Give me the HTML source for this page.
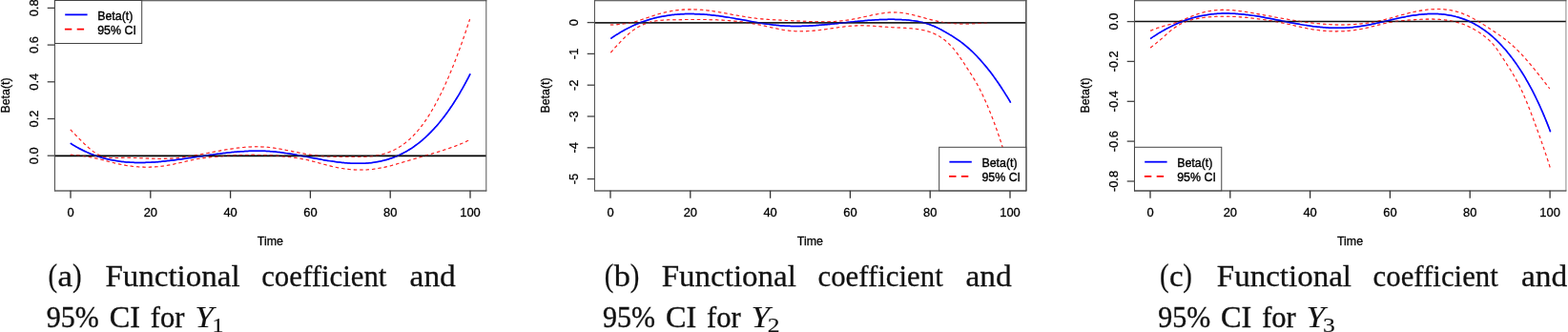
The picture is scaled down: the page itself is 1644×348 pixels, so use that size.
<!DOCTYPE html>
<html><head><meta charset="utf-8"><title>Functional coefficient and 95% CI</title>
<style>
html,body{margin:0;padding:0;background:#fff;}
body{width:1644px;height:348px;overflow:hidden;position:relative;}
</style></head><body>
<svg width="1644" height="348" viewBox="0 0 1644 348" style="position:absolute;left:0;top:0">
<rect width="1644" height="348" fill="#fff"/>
<g>
<g fill="none" stroke-linejoin="round">
<path d="M73.80,135.89 L75.30,137.39 L76.80,138.92 L78.30,140.46 L79.80,142.01 L81.30,143.56 L82.80,145.11 L84.30,146.64 L85.80,148.16 L87.30,149.65 L88.80,151.11 L90.30,152.53 L91.80,153.90 L93.30,155.23 L94.80,156.49 L96.30,157.69 L97.80,158.81 L99.30,159.86 L100.80,160.82 L102.30,161.68 L103.80,162.45 L105.30,163.11 L106.80,163.68 L108.30,164.15 L109.80,164.54 L111.30,164.85 L112.80,165.09 L114.30,165.27 L115.80,165.40 L117.30,165.48 L118.80,165.52 L120.30,165.53 L121.80,165.51 L123.30,165.48 L124.80,165.44 L126.30,165.40 L127.80,165.36 L129.30,165.33 L130.80,165.32 L132.30,165.32 L133.80,165.33 L135.30,165.35 L136.80,165.38 L138.30,165.41 L139.80,165.45 L141.30,165.50 L142.80,165.56 L144.30,165.61 L145.80,165.68 L147.30,165.74 L148.80,165.81 L150.30,165.87 L151.80,165.94 L153.30,166.01 L154.80,166.07 L156.30,166.13 L157.80,166.19 L159.30,166.24 L160.80,166.29 L162.30,166.33 L163.80,166.36 L165.30,166.39 L166.80,166.40 L168.30,166.41 L169.80,166.41 L171.30,166.39 L172.80,166.36 L174.30,166.32 L175.80,166.26 L177.30,166.19 L178.80,166.11 L180.30,166.01 L181.80,165.89 L183.30,165.77 L184.80,165.63 L186.30,165.48 L187.80,165.31 L189.30,165.14 L190.80,164.95 L192.30,164.76 L193.80,164.55 L195.30,164.34 L196.80,164.12 L198.30,163.89 L199.80,163.65 L201.30,163.41 L202.80,163.16 L204.30,162.90 L205.80,162.64 L207.30,162.38 L208.80,162.11 L210.30,161.83 L211.80,161.55 L213.30,161.27 L214.80,160.99 L216.30,160.71 L217.80,160.42 L219.30,160.14 L220.80,159.85 L222.30,159.57 L223.80,159.28 L225.30,159.00 L226.80,158.72 L228.30,158.44 L229.80,158.16 L231.30,157.89 L232.80,157.62 L234.30,157.36 L235.80,157.10 L237.30,156.85 L238.80,156.61 L240.30,156.37 L241.80,156.13 L243.30,155.91 L244.80,155.69 L246.30,155.49 L247.80,155.29 L249.30,155.10 L250.80,154.92 L252.30,154.76 L253.80,154.60 L255.30,154.46 L256.80,154.33 L258.30,154.21 L259.80,154.10 L261.30,154.01 L262.80,153.94 L264.30,153.87 L265.80,153.83 L267.30,153.80 L268.80,153.79 L270.30,153.79 L271.80,153.81 L273.30,153.85 L274.80,153.91 L276.30,153.99 L277.80,154.09 L279.30,154.21 L280.80,154.34 L282.30,154.50 L283.80,154.67 L285.30,154.86 L286.80,155.07 L288.30,155.28 L289.80,155.51 L291.30,155.76 L292.80,156.01 L294.30,156.28 L295.80,156.55 L297.30,156.83 L298.80,157.12 L300.30,157.41 L301.80,157.71 L303.30,158.01 L304.80,158.31 L306.30,158.62 L307.80,158.93 L309.30,159.23 L310.80,159.54 L312.30,159.84 L313.80,160.14 L315.30,160.43 L316.80,160.72 L318.30,161.00 L319.80,161.28 L321.30,161.54 L322.80,161.80 L324.30,162.04 L325.80,162.28 L327.30,162.50 L328.80,162.70 L330.30,162.89 L331.80,163.07 L333.30,163.23 L334.80,163.37 L336.30,163.50 L337.80,163.61 L339.30,163.71 L340.80,163.80 L342.30,163.87 L343.80,163.93 L345.30,163.99 L346.80,164.03 L348.30,164.07 L349.80,164.10 L351.30,164.12 L352.80,164.14 L354.30,164.15 L355.80,164.16 L357.30,164.17 L358.80,164.18 L360.30,164.18 L361.80,164.19 L363.30,164.19 L364.80,164.20 L366.30,164.21 L367.80,164.23 L369.30,164.24 L370.80,164.26 L372.30,164.27 L373.80,164.28 L375.30,164.28 L376.80,164.28 L378.30,164.27 L379.80,164.24 L381.30,164.21 L382.80,164.15 L384.30,164.09 L385.80,164.00 L387.30,163.90 L388.80,163.77 L390.30,163.62 L391.80,163.44 L393.30,163.24 L394.80,163.01 L396.30,162.74 L397.80,162.45 L399.30,162.12 L400.80,161.75 L402.30,161.35 L403.80,160.91 L405.30,160.43 L406.80,159.91 L408.30,159.35 L409.80,158.74 L411.30,158.08 L412.80,157.38 L414.30,156.63 L415.80,155.83 L417.30,154.97 L418.80,154.07 L420.30,153.11 L421.80,152.09 L423.30,151.01 L424.80,149.88 L426.30,148.68 L427.80,147.42 L429.30,146.10 L430.80,144.71 L432.30,143.25 L433.80,141.73 L435.30,140.14 L436.80,138.47 L438.30,136.73 L439.80,134.92 L441.30,133.03 L442.80,131.07 L444.30,129.02 L445.80,126.90 L447.30,124.69 L448.80,122.40 L450.30,120.03 L451.80,117.58 L453.30,115.05 L454.80,112.43 L456.30,109.73 L457.80,106.96 L459.30,104.10 L460.80,101.16 L462.30,98.14 L463.80,95.04 L465.30,91.86 L466.80,88.60 L468.30,85.26 L469.80,81.84 L471.30,78.34 L472.80,74.75 L474.30,71.09 L475.80,67.35 L477.30,63.53 L478.80,59.63 L480.30,55.66 L481.80,51.60 L483.30,47.46 L484.80,43.25 L486.30,38.95 L487.80,34.58 L489.30,30.13 L490.80,25.60 L492.30,20.99 L492.60,20.06" stroke="#ff2222" stroke-width="1.05" stroke-dasharray="3.4 3"/>
<path d="M73.80,162.32 L75.30,162.35 L76.80,162.41 L78.30,162.49 L79.80,162.59 L81.30,162.72 L82.80,162.86 L84.30,163.03 L85.80,163.22 L87.30,163.43 L88.80,163.65 L90.30,163.90 L91.80,164.15 L93.30,164.43 L94.80,164.72 L96.30,165.02 L97.80,165.34 L99.30,165.67 L100.80,166.01 L102.30,166.36 L103.80,166.72 L105.30,167.09 L106.80,167.46 L108.30,167.84 L109.80,168.23 L111.30,168.62 L112.80,169.01 L114.30,169.39 L115.80,169.78 L117.30,170.16 L118.80,170.54 L120.30,170.90 L121.80,171.26 L123.30,171.61 L124.80,171.95 L126.30,172.27 L127.80,172.58 L129.30,172.87 L130.80,173.14 L132.30,173.40 L133.80,173.64 L135.30,173.86 L136.80,174.06 L138.30,174.25 L139.80,174.42 L141.30,174.57 L142.80,174.71 L144.30,174.82 L145.80,174.92 L147.30,175.01 L148.80,175.07 L150.30,175.12 L151.80,175.15 L153.30,175.17 L154.80,175.17 L156.30,175.15 L157.80,175.11 L159.30,175.05 L160.80,174.98 L162.30,174.89 L163.80,174.78 L165.30,174.66 L166.80,174.52 L168.30,174.36 L169.80,174.18 L171.30,173.99 L172.80,173.78 L174.30,173.55 L175.80,173.30 L177.30,173.04 L178.80,172.76 L180.30,172.46 L181.80,172.16 L183.30,171.84 L184.80,171.51 L186.30,171.18 L187.80,170.84 L189.30,170.49 L190.80,170.15 L192.30,169.80 L193.80,169.45 L195.30,169.10 L196.80,168.76 L198.30,168.42 L199.80,168.09 L201.30,167.77 L202.80,167.45 L204.30,167.15 L205.80,166.87 L207.30,166.59 L208.80,166.33 L210.30,166.09 L211.80,165.86 L213.30,165.64 L214.80,165.43 L216.30,165.24 L217.80,165.05 L219.30,164.88 L220.80,164.71 L222.30,164.56 L223.80,164.41 L225.30,164.27 L226.80,164.13 L228.30,164.00 L229.80,163.88 L231.30,163.76 L232.80,163.65 L234.30,163.54 L235.80,163.44 L237.30,163.34 L238.80,163.24 L240.30,163.15 L241.80,163.07 L243.30,162.99 L244.80,162.91 L246.30,162.84 L247.80,162.77 L249.30,162.71 L250.80,162.65 L252.30,162.60 L253.80,162.56 L255.30,162.52 L256.80,162.48 L258.30,162.45 L259.80,162.43 L261.30,162.41 L262.80,162.40 L264.30,162.39 L265.80,162.39 L267.30,162.39 L268.80,162.41 L270.30,162.42 L271.80,162.45 L273.30,162.48 L274.80,162.51 L276.30,162.56 L277.80,162.61 L279.30,162.66 L280.80,162.73 L282.30,162.80 L283.80,162.88 L285.30,162.96 L286.80,163.05 L288.30,163.15 L289.80,163.26 L291.30,163.37 L292.80,163.49 L294.30,163.62 L295.80,163.75 L297.30,163.90 L298.80,164.05 L300.30,164.21 L301.80,164.38 L303.30,164.55 L304.80,164.74 L306.30,164.94 L307.80,165.14 L309.30,165.36 L310.80,165.59 L312.30,165.83 L313.80,166.08 L315.30,166.34 L316.80,166.61 L318.30,166.90 L319.80,167.20 L321.30,167.51 L322.80,167.84 L324.30,168.18 L325.80,168.53 L327.30,168.90 L328.80,169.28 L330.30,169.67 L331.80,170.08 L333.30,170.48 L334.80,170.90 L336.30,171.31 L337.80,171.73 L339.30,172.14 L340.80,172.55 L342.30,172.96 L343.80,173.36 L345.30,173.75 L346.80,174.13 L348.30,174.49 L349.80,174.84 L351.30,175.18 L352.80,175.49 L354.30,175.79 L355.80,176.07 L357.30,176.33 L358.80,176.58 L360.30,176.81 L361.80,177.01 L363.30,177.21 L364.80,177.38 L366.30,177.53 L367.80,177.67 L369.30,177.79 L370.80,177.88 L372.30,177.96 L373.80,178.03 L375.30,178.07 L376.80,178.09 L378.30,178.09 L379.80,178.08 L381.30,178.04 L382.80,177.99 L384.30,177.92 L385.80,177.82 L387.30,177.71 L388.80,177.57 L390.30,177.42 L391.80,177.25 L393.30,177.05 L394.80,176.84 L396.30,176.60 L397.80,176.35 L399.30,176.07 L400.80,175.78 L402.30,175.46 L403.80,175.13 L405.30,174.79 L406.80,174.42 L408.30,174.05 L409.80,173.66 L411.30,173.27 L412.80,172.86 L414.30,172.45 L415.80,172.02 L417.30,171.60 L418.80,171.16 L420.30,170.73 L421.80,170.29 L423.30,169.85 L424.80,169.41 L426.30,168.97 L427.80,168.53 L429.30,168.09 L430.80,167.65 L432.30,167.21 L433.80,166.76 L435.30,166.32 L436.80,165.88 L438.30,165.44 L439.80,165.00 L441.30,164.55 L442.80,164.11 L444.30,163.67 L445.80,163.23 L447.30,162.79 L448.80,162.35 L450.30,161.91 L451.80,161.47 L453.30,161.03 L454.80,160.58 L456.30,160.13 L457.80,159.68 L459.30,159.22 L460.80,158.76 L462.30,158.29 L463.80,157.82 L465.30,157.33 L466.80,156.84 L468.30,156.35 L469.80,155.84 L471.30,155.32 L472.80,154.79 L474.30,154.25 L475.80,153.70 L477.30,153.14 L478.80,152.56 L480.30,151.97 L481.80,151.36 L483.30,150.74 L484.80,150.11 L486.30,149.45 L487.80,148.78 L489.30,148.10 L490.80,147.39 L492.30,146.67 L493.00,146.32" stroke="#ff2222" stroke-width="1.05" stroke-dasharray="3.4 3"/>
<path d="M73.80,150.17 L75.30,151.13 L76.80,152.05 L78.30,152.95 L79.80,153.82 L81.30,154.66 L82.80,155.48 L84.30,156.27 L85.80,157.04 L87.30,157.78 L88.80,158.50 L90.30,159.19 L91.80,159.85 L93.30,160.50 L94.80,161.12 L96.30,161.71 L97.80,162.28 L99.30,162.84 L100.80,163.36 L102.30,163.87 L103.80,164.35 L105.30,164.82 L106.80,165.26 L108.30,165.68 L109.80,166.08 L111.30,166.46 L112.80,166.82 L114.30,167.17 L115.80,167.49 L117.30,167.79 L118.80,168.08 L120.30,168.35 L121.80,168.60 L123.30,168.83 L124.80,169.05 L126.30,169.25 L127.80,169.43 L129.30,169.60 L130.80,169.75 L132.30,169.88 L133.80,170.00 L135.30,170.11 L136.80,170.20 L138.30,170.28 L139.80,170.34 L141.30,170.39 L142.80,170.43 L144.30,170.45 L145.80,170.47 L147.30,170.47 L148.80,170.45 L150.30,170.43 L151.80,170.40 L153.30,170.35 L154.80,170.30 L156.30,170.23 L157.80,170.16 L159.30,170.07 L160.80,169.98 L162.30,169.88 L163.80,169.77 L165.30,169.65 L166.80,169.52 L168.30,169.39 L169.80,169.24 L171.30,169.10 L172.80,168.94 L174.30,168.78 L175.80,168.61 L177.30,168.44 L178.80,168.27 L180.30,168.08 L181.80,167.90 L183.30,167.71 L184.80,167.51 L186.30,167.32 L187.80,167.11 L189.30,166.91 L190.80,166.70 L192.30,166.49 L193.80,166.28 L195.30,166.07 L196.80,165.85 L198.30,165.63 L199.80,165.41 L201.30,165.19 L202.80,164.97 L204.30,164.75 L205.80,164.53 L207.30,164.31 L208.80,164.08 L210.30,163.86 L211.80,163.64 L213.30,163.42 L214.80,163.20 L216.30,162.98 L217.80,162.77 L219.30,162.55 L220.80,162.34 L222.30,162.13 L223.80,161.93 L225.30,161.72 L226.80,161.52 L228.30,161.32 L229.80,161.13 L231.30,160.94 L232.80,160.75 L234.30,160.57 L235.80,160.40 L237.30,160.22 L238.80,160.06 L240.30,159.90 L241.80,159.74 L243.30,159.59 L244.80,159.45 L246.30,159.31 L247.80,159.18 L249.30,159.06 L250.80,158.94 L252.30,158.83 L253.80,158.73 L255.30,158.64 L256.80,158.55 L258.30,158.48 L259.80,158.41 L261.30,158.35 L262.80,158.30 L264.30,158.26 L265.80,158.23 L267.30,158.21 L268.80,158.20 L270.30,158.20 L271.80,158.21 L273.30,158.23 L274.80,158.27 L276.30,158.31 L277.80,158.37 L279.30,158.43 L280.80,158.51 L282.30,158.61 L283.80,158.71 L285.30,158.83 L286.80,158.96 L288.30,159.10 L289.80,159.26 L291.30,159.42 L292.80,159.60 L294.30,159.79 L295.80,159.98 L297.30,160.19 L298.80,160.40 L300.30,160.62 L301.80,160.85 L303.30,161.08 L304.80,161.33 L306.30,161.58 L307.80,161.83 L309.30,162.09 L310.80,162.35 L312.30,162.62 L313.80,162.90 L315.30,163.17 L316.80,163.45 L318.30,163.73 L319.80,164.01 L321.30,164.30 L322.80,164.58 L324.30,164.87 L325.80,165.15 L327.30,165.44 L328.80,165.72 L330.30,166.00 L331.80,166.28 L333.30,166.56 L334.80,166.84 L336.30,167.11 L337.80,167.37 L339.30,167.64 L340.80,167.89 L342.30,168.15 L343.80,168.39 L345.30,168.63 L346.80,168.87 L348.30,169.09 L349.80,169.31 L351.30,169.52 L352.80,169.72 L354.30,169.91 L355.80,170.09 L357.30,170.26 L358.80,170.43 L360.30,170.57 L361.80,170.71 L363.30,170.84 L364.80,170.95 L366.30,171.05 L367.80,171.14 L369.30,171.21 L370.80,171.27 L372.30,171.31 L373.80,171.34 L375.30,171.35 L376.80,171.34 L378.30,171.32 L379.80,171.28 L381.30,171.22 L382.80,171.14 L384.30,171.05 L385.80,170.93 L387.30,170.79 L388.80,170.64 L390.30,170.46 L391.80,170.26 L393.30,170.04 L394.80,169.80 L396.30,169.54 L397.80,169.25 L399.30,168.94 L400.80,168.60 L402.30,168.24 L403.80,167.85 L405.30,167.43 L406.80,166.99 L408.30,166.52 L409.80,166.02 L411.30,165.50 L412.80,164.94 L414.30,164.36 L415.80,163.74 L417.30,163.09 L418.80,162.42 L420.30,161.71 L421.80,160.96 L423.30,160.19 L424.80,159.38 L426.30,158.53 L427.80,157.66 L429.30,156.74 L430.80,155.79 L432.30,154.81 L433.80,153.78 L435.30,152.72 L436.80,151.62 L438.30,150.48 L439.80,149.31 L441.30,148.09 L442.80,146.83 L444.30,145.53 L445.80,144.19 L447.30,142.81 L448.80,141.38 L450.30,139.91 L451.80,138.40 L453.30,136.84 L454.80,135.24 L456.30,133.59 L457.80,131.90 L459.30,130.16 L460.80,128.37 L462.30,126.53 L463.80,124.65 L465.30,122.71 L466.80,120.73 L468.30,118.70 L469.80,116.61 L471.30,114.48 L472.80,112.29 L474.30,110.05 L475.80,107.76 L477.30,105.42 L478.80,103.02 L480.30,100.56 L481.80,98.05 L483.30,95.49 L484.80,92.87 L486.30,90.19 L487.80,87.45 L489.30,84.66 L490.80,81.81 L492.30,78.89 L493.10,77.32" stroke="#0404ff" stroke-width="1.5" stroke-linecap="butt"/>
<line x1="57.5" x2="509.8" y1="163.30" y2="163.30" stroke="#000" stroke-width="1.7"/>
<path d="M73.80,135.89 L75.30,137.39 L76.80,138.92 L78.30,140.46 L79.80,142.01 L81.30,143.56 L82.80,145.11 L84.30,146.64 L85.80,148.16 L87.30,149.65 L88.80,151.11 L90.30,152.53 L91.80,153.90 L93.30,155.23 L94.80,156.49 L96.30,157.69 L97.80,158.81 L99.30,159.86 L100.80,160.82 L102.30,161.68 L103.80,162.45 L105.30,163.11 L106.80,163.68 L108.30,164.15 L109.80,164.54 L111.30,164.85 L112.80,165.09 L114.30,165.27 L115.80,165.40 L117.30,165.48 L118.80,165.52 L120.30,165.53 L121.80,165.51 L123.30,165.48 L124.80,165.44 L126.30,165.40 L127.80,165.36 L129.30,165.33 L130.80,165.32 L132.30,165.32 L133.80,165.33 L135.30,165.35 L136.80,165.38 L138.30,165.41 L139.80,165.45 L141.30,165.50 L142.80,165.56 L144.30,165.61 L145.80,165.68 L147.30,165.74 L148.80,165.81 L150.30,165.87 L151.80,165.94 L153.30,166.01 L154.80,166.07 L156.30,166.13 L157.80,166.19 L159.30,166.24 L160.80,166.29 L162.30,166.33 L163.80,166.36 L165.30,166.39 L166.80,166.40 L168.30,166.41 L169.80,166.41 L171.30,166.39 L172.80,166.36 L174.30,166.32 L175.80,166.26 L177.30,166.19 L178.80,166.11 L180.30,166.01 L181.80,165.89 L183.30,165.77 L184.80,165.63 L186.30,165.48 L187.80,165.31 L189.30,165.14 L190.80,164.95 L192.30,164.76 L193.80,164.55 L195.30,164.34 L196.80,164.12 L198.30,163.89 L199.80,163.65 L201.30,163.41 L202.80,163.16 L204.30,162.90 L205.80,162.64 L207.30,162.38 L208.80,162.11 L210.30,161.83 L211.80,161.55 L213.30,161.27 L214.80,160.99 L216.30,160.71 L217.80,160.42 L219.30,160.14 L220.80,159.85 L222.30,159.57 L223.80,159.28 L225.30,159.00 L226.80,158.72 L228.30,158.44 L229.80,158.16 L231.30,157.89 L232.80,157.62 L234.30,157.36 L235.80,157.10 L237.30,156.85 L238.80,156.61 L240.30,156.37 L241.80,156.13 L243.30,155.91 L244.80,155.69 L246.30,155.49 L247.80,155.29 L249.30,155.10 L250.80,154.92 L252.30,154.76 L253.80,154.60 L255.30,154.46 L256.80,154.33 L258.30,154.21 L259.80,154.10 L261.30,154.01 L262.80,153.94 L264.30,153.87 L265.80,153.83 L267.30,153.80 L268.80,153.79 L270.30,153.79 L271.80,153.81 L273.30,153.85 L274.80,153.91 L276.30,153.99 L277.80,154.09 L279.30,154.21 L280.80,154.34 L282.30,154.50 L283.80,154.67 L285.30,154.86 L286.80,155.07 L288.30,155.28 L289.80,155.51 L291.30,155.76 L292.80,156.01 L294.30,156.28 L295.80,156.55 L297.30,156.83 L298.80,157.12 L300.30,157.41 L301.80,157.71 L303.30,158.01 L304.80,158.31 L306.30,158.62 L307.80,158.93 L309.30,159.23 L310.80,159.54 L312.30,159.84 L313.80,160.14 L315.30,160.43 L316.80,160.72 L318.30,161.00 L319.80,161.28 L321.30,161.54 L322.80,161.80 L324.30,162.04 L325.80,162.28 L327.30,162.50 L328.80,162.70 L330.30,162.89 L331.80,163.07 L333.30,163.23 L334.80,163.37 L336.30,163.50 L337.80,163.61 L339.30,163.71 L340.80,163.80 L342.30,163.87 L343.80,163.93 L345.30,163.99 L346.80,164.03 L348.30,164.07 L349.80,164.10 L351.30,164.12 L352.80,164.14 L354.30,164.15 L355.80,164.16 L357.30,164.17 L358.80,164.18 L360.30,164.18 L361.80,164.19 L363.30,164.19 L364.80,164.20 L366.30,164.21 L367.80,164.23 L369.30,164.24 L370.80,164.26 L372.30,164.27 L373.80,164.28 L375.30,164.28 L376.80,164.28 L378.30,164.27 L379.80,164.24 L381.30,164.21 L382.80,164.15 L384.30,164.09 L385.80,164.00 L387.30,163.90 L388.80,163.77 L390.30,163.62 L391.80,163.44 L393.30,163.24 L394.80,163.01 L396.30,162.74 L397.80,162.45 L399.30,162.12 L400.80,161.75 L402.30,161.35 L403.80,160.91 L405.30,160.43 L406.80,159.91 L408.30,159.35 L409.80,158.74 L411.30,158.08 L412.80,157.38 L414.30,156.63 L415.80,155.83 L417.30,154.97 L418.80,154.07 L420.30,153.11 L421.80,152.09 L423.30,151.01 L424.80,149.88 L426.30,148.68 L427.80,147.42 L429.30,146.10 L430.80,144.71 L432.30,143.25 L433.80,141.73 L435.30,140.14 L436.80,138.47 L438.30,136.73 L439.80,134.92 L441.30,133.03 L442.80,131.07 L444.30,129.02 L445.80,126.90 L447.30,124.69 L448.80,122.40 L450.30,120.03 L451.80,117.58 L453.30,115.05 L454.80,112.43 L456.30,109.73 L457.80,106.96 L459.30,104.10 L460.80,101.16 L462.30,98.14 L463.80,95.04 L465.30,91.86 L466.80,88.60 L468.30,85.26 L469.80,81.84 L471.30,78.34 L472.80,74.75 L474.30,71.09 L475.80,67.35 L477.30,63.53 L478.80,59.63 L480.30,55.66 L481.80,51.60 L483.30,47.46 L484.80,43.25 L486.30,38.95 L487.80,34.58 L489.30,30.13 L490.80,25.60 L492.30,20.99 L492.60,20.06" stroke="#ff2222" stroke-width="1.05" stroke-dasharray="3.4 3" opacity="0.45"/>
<path d="M73.80,162.32 L75.30,162.35 L76.80,162.41 L78.30,162.49 L79.80,162.59 L81.30,162.72 L82.80,162.86 L84.30,163.03 L85.80,163.22 L87.30,163.43 L88.80,163.65 L90.30,163.90 L91.80,164.15 L93.30,164.43 L94.80,164.72 L96.30,165.02 L97.80,165.34 L99.30,165.67 L100.80,166.01 L102.30,166.36 L103.80,166.72 L105.30,167.09 L106.80,167.46 L108.30,167.84 L109.80,168.23 L111.30,168.62 L112.80,169.01 L114.30,169.39 L115.80,169.78 L117.30,170.16 L118.80,170.54 L120.30,170.90 L121.80,171.26 L123.30,171.61 L124.80,171.95 L126.30,172.27 L127.80,172.58 L129.30,172.87 L130.80,173.14 L132.30,173.40 L133.80,173.64 L135.30,173.86 L136.80,174.06 L138.30,174.25 L139.80,174.42 L141.30,174.57 L142.80,174.71 L144.30,174.82 L145.80,174.92 L147.30,175.01 L148.80,175.07 L150.30,175.12 L151.80,175.15 L153.30,175.17 L154.80,175.17 L156.30,175.15 L157.80,175.11 L159.30,175.05 L160.80,174.98 L162.30,174.89 L163.80,174.78 L165.30,174.66 L166.80,174.52 L168.30,174.36 L169.80,174.18 L171.30,173.99 L172.80,173.78 L174.30,173.55 L175.80,173.30 L177.30,173.04 L178.80,172.76 L180.30,172.46 L181.80,172.16 L183.30,171.84 L184.80,171.51 L186.30,171.18 L187.80,170.84 L189.30,170.49 L190.80,170.15 L192.30,169.80 L193.80,169.45 L195.30,169.10 L196.80,168.76 L198.30,168.42 L199.80,168.09 L201.30,167.77 L202.80,167.45 L204.30,167.15 L205.80,166.87 L207.30,166.59 L208.80,166.33 L210.30,166.09 L211.80,165.86 L213.30,165.64 L214.80,165.43 L216.30,165.24 L217.80,165.05 L219.30,164.88 L220.80,164.71 L222.30,164.56 L223.80,164.41 L225.30,164.27 L226.80,164.13 L228.30,164.00 L229.80,163.88 L231.30,163.76 L232.80,163.65 L234.30,163.54 L235.80,163.44 L237.30,163.34 L238.80,163.24 L240.30,163.15 L241.80,163.07 L243.30,162.99 L244.80,162.91 L246.30,162.84 L247.80,162.77 L249.30,162.71 L250.80,162.65 L252.30,162.60 L253.80,162.56 L255.30,162.52 L256.80,162.48 L258.30,162.45 L259.80,162.43 L261.30,162.41 L262.80,162.40 L264.30,162.39 L265.80,162.39 L267.30,162.39 L268.80,162.41 L270.30,162.42 L271.80,162.45 L273.30,162.48 L274.80,162.51 L276.30,162.56 L277.80,162.61 L279.30,162.66 L280.80,162.73 L282.30,162.80 L283.80,162.88 L285.30,162.96 L286.80,163.05 L288.30,163.15 L289.80,163.26 L291.30,163.37 L292.80,163.49 L294.30,163.62 L295.80,163.75 L297.30,163.90 L298.80,164.05 L300.30,164.21 L301.80,164.38 L303.30,164.55 L304.80,164.74 L306.30,164.94 L307.80,165.14 L309.30,165.36 L310.80,165.59 L312.30,165.83 L313.80,166.08 L315.30,166.34 L316.80,166.61 L318.30,166.90 L319.80,167.20 L321.30,167.51 L322.80,167.84 L324.30,168.18 L325.80,168.53 L327.30,168.90 L328.80,169.28 L330.30,169.67 L331.80,170.08 L333.30,170.48 L334.80,170.90 L336.30,171.31 L337.80,171.73 L339.30,172.14 L340.80,172.55 L342.30,172.96 L343.80,173.36 L345.30,173.75 L346.80,174.13 L348.30,174.49 L349.80,174.84 L351.30,175.18 L352.80,175.49 L354.30,175.79 L355.80,176.07 L357.30,176.33 L358.80,176.58 L360.30,176.81 L361.80,177.01 L363.30,177.21 L364.80,177.38 L366.30,177.53 L367.80,177.67 L369.30,177.79 L370.80,177.88 L372.30,177.96 L373.80,178.03 L375.30,178.07 L376.80,178.09 L378.30,178.09 L379.80,178.08 L381.30,178.04 L382.80,177.99 L384.30,177.92 L385.80,177.82 L387.30,177.71 L388.80,177.57 L390.30,177.42 L391.80,177.25 L393.30,177.05 L394.80,176.84 L396.30,176.60 L397.80,176.35 L399.30,176.07 L400.80,175.78 L402.30,175.46 L403.80,175.13 L405.30,174.79 L406.80,174.42 L408.30,174.05 L409.80,173.66 L411.30,173.27 L412.80,172.86 L414.30,172.45 L415.80,172.02 L417.30,171.60 L418.80,171.16 L420.30,170.73 L421.80,170.29 L423.30,169.85 L424.80,169.41 L426.30,168.97 L427.80,168.53 L429.30,168.09 L430.80,167.65 L432.30,167.21 L433.80,166.76 L435.30,166.32 L436.80,165.88 L438.30,165.44 L439.80,165.00 L441.30,164.55 L442.80,164.11 L444.30,163.67 L445.80,163.23 L447.30,162.79 L448.80,162.35 L450.30,161.91 L451.80,161.47 L453.30,161.03 L454.80,160.58 L456.30,160.13 L457.80,159.68 L459.30,159.22 L460.80,158.76 L462.30,158.29 L463.80,157.82 L465.30,157.33 L466.80,156.84 L468.30,156.35 L469.80,155.84 L471.30,155.32 L472.80,154.79 L474.30,154.25 L475.80,153.70 L477.30,153.14 L478.80,152.56 L480.30,151.97 L481.80,151.36 L483.30,150.74 L484.80,150.11 L486.30,149.45 L487.80,148.78 L489.30,148.10 L490.80,147.39 L492.30,146.67 L493.00,146.32" stroke="#ff2222" stroke-width="1.05" stroke-dasharray="3.4 3" opacity="0.45"/>
<path d="M73.80,150.17 L75.30,151.13 L76.80,152.05 L78.30,152.95 L79.80,153.82 L81.30,154.66 L82.80,155.48 L84.30,156.27 L85.80,157.04 L87.30,157.78 L88.80,158.50 L90.30,159.19 L91.80,159.85 L93.30,160.50 L94.80,161.12 L96.30,161.71 L97.80,162.28 L99.30,162.84 L100.80,163.36 L102.30,163.87 L103.80,164.35 L105.30,164.82 L106.80,165.26 L108.30,165.68 L109.80,166.08 L111.30,166.46 L112.80,166.82 L114.30,167.17 L115.80,167.49 L117.30,167.79 L118.80,168.08 L120.30,168.35 L121.80,168.60 L123.30,168.83 L124.80,169.05 L126.30,169.25 L127.80,169.43 L129.30,169.60 L130.80,169.75 L132.30,169.88 L133.80,170.00 L135.30,170.11 L136.80,170.20 L138.30,170.28 L139.80,170.34 L141.30,170.39 L142.80,170.43 L144.30,170.45 L145.80,170.47 L147.30,170.47 L148.80,170.45 L150.30,170.43 L151.80,170.40 L153.30,170.35 L154.80,170.30 L156.30,170.23 L157.80,170.16 L159.30,170.07 L160.80,169.98 L162.30,169.88 L163.80,169.77 L165.30,169.65 L166.80,169.52 L168.30,169.39 L169.80,169.24 L171.30,169.10 L172.80,168.94 L174.30,168.78 L175.80,168.61 L177.30,168.44 L178.80,168.27 L180.30,168.08 L181.80,167.90 L183.30,167.71 L184.80,167.51 L186.30,167.32 L187.80,167.11 L189.30,166.91 L190.80,166.70 L192.30,166.49 L193.80,166.28 L195.30,166.07 L196.80,165.85 L198.30,165.63 L199.80,165.41 L201.30,165.19 L202.80,164.97 L204.30,164.75 L205.80,164.53 L207.30,164.31 L208.80,164.08 L210.30,163.86 L211.80,163.64 L213.30,163.42 L214.80,163.20 L216.30,162.98 L217.80,162.77 L219.30,162.55 L220.80,162.34 L222.30,162.13 L223.80,161.93 L225.30,161.72 L226.80,161.52 L228.30,161.32 L229.80,161.13 L231.30,160.94 L232.80,160.75 L234.30,160.57 L235.80,160.40 L237.30,160.22 L238.80,160.06 L240.30,159.90 L241.80,159.74 L243.30,159.59 L244.80,159.45 L246.30,159.31 L247.80,159.18 L249.30,159.06 L250.80,158.94 L252.30,158.83 L253.80,158.73 L255.30,158.64 L256.80,158.55 L258.30,158.48 L259.80,158.41 L261.30,158.35 L262.80,158.30 L264.30,158.26 L265.80,158.23 L267.30,158.21 L268.80,158.20 L270.30,158.20 L271.80,158.21 L273.30,158.23 L274.80,158.27 L276.30,158.31 L277.80,158.37 L279.30,158.43 L280.80,158.51 L282.30,158.61 L283.80,158.71 L285.30,158.83 L286.80,158.96 L288.30,159.10 L289.80,159.26 L291.30,159.42 L292.80,159.60 L294.30,159.79 L295.80,159.98 L297.30,160.19 L298.80,160.40 L300.30,160.62 L301.80,160.85 L303.30,161.08 L304.80,161.33 L306.30,161.58 L307.80,161.83 L309.30,162.09 L310.80,162.35 L312.30,162.62 L313.80,162.90 L315.30,163.17 L316.80,163.45 L318.30,163.73 L319.80,164.01 L321.30,164.30 L322.80,164.58 L324.30,164.87 L325.80,165.15 L327.30,165.44 L328.80,165.72 L330.30,166.00 L331.80,166.28 L333.30,166.56 L334.80,166.84 L336.30,167.11 L337.80,167.37 L339.30,167.64 L340.80,167.89 L342.30,168.15 L343.80,168.39 L345.30,168.63 L346.80,168.87 L348.30,169.09 L349.80,169.31 L351.30,169.52 L352.80,169.72 L354.30,169.91 L355.80,170.09 L357.30,170.26 L358.80,170.43 L360.30,170.57 L361.80,170.71 L363.30,170.84 L364.80,170.95 L366.30,171.05 L367.80,171.14 L369.30,171.21 L370.80,171.27 L372.30,171.31 L373.80,171.34 L375.30,171.35 L376.80,171.34 L378.30,171.32 L379.80,171.28 L381.30,171.22 L382.80,171.14 L384.30,171.05 L385.80,170.93 L387.30,170.79 L388.80,170.64 L390.30,170.46 L391.80,170.26 L393.30,170.04 L394.80,169.80 L396.30,169.54 L397.80,169.25 L399.30,168.94 L400.80,168.60 L402.30,168.24 L403.80,167.85 L405.30,167.43 L406.80,166.99 L408.30,166.52 L409.80,166.02 L411.30,165.50 L412.80,164.94 L414.30,164.36 L415.80,163.74 L417.30,163.09 L418.80,162.42 L420.30,161.71 L421.80,160.96 L423.30,160.19 L424.80,159.38 L426.30,158.53 L427.80,157.66 L429.30,156.74 L430.80,155.79 L432.30,154.81 L433.80,153.78 L435.30,152.72 L436.80,151.62 L438.30,150.48 L439.80,149.31 L441.30,148.09 L442.80,146.83 L444.30,145.53 L445.80,144.19 L447.30,142.81 L448.80,141.38 L450.30,139.91 L451.80,138.40 L453.30,136.84 L454.80,135.24 L456.30,133.59 L457.80,131.90 L459.30,130.16 L460.80,128.37 L462.30,126.53 L463.80,124.65 L465.30,122.71 L466.80,120.73 L468.30,118.70 L469.80,116.61 L471.30,114.48 L472.80,112.29 L474.30,110.05 L475.80,107.76 L477.30,105.42 L478.80,103.02 L480.30,100.56 L481.80,98.05 L483.30,95.49 L484.80,92.87 L486.30,90.19 L487.80,87.45 L489.30,84.66 L490.80,81.81 L492.30,78.89 L493.10,77.32" stroke="#0404ff" stroke-width="1.5" stroke-linecap="butt" opacity="0.6"/>
</g>
<rect x="56.95" y="0" width="453.35" height="1.3" fill="#686868"/>
<line x1="57.45" x2="57.45" y1="0" y2="200.30" stroke="#555" stroke-width="1.1"/>
<line x1="509.80" x2="509.80" y1="0" y2="200.30" stroke="#555" stroke-width="1.0"/>
<line x1="56.95" x2="510.30" y1="199.95" y2="199.95" stroke="#606060" stroke-width="1.4"/>
<line x1="74.0" x2="74.0" y1="199.8" y2="207.8" stroke="#333" stroke-width="1.3"/>
<text x="74.0" y="227.2" text-anchor="middle" font-size="12.9" font-family="Liberation Sans, Arial, Helvetica, sans-serif" fill="#000" stroke="#000" stroke-width="0.28">0</text>
<line x1="157.8" x2="157.8" y1="199.8" y2="207.8" stroke="#333" stroke-width="1.3"/>
<text x="157.8" y="227.2" text-anchor="middle" font-size="12.9" font-family="Liberation Sans, Arial, Helvetica, sans-serif" fill="#000" stroke="#000" stroke-width="0.28">20</text>
<line x1="241.6" x2="241.6" y1="199.8" y2="207.8" stroke="#333" stroke-width="1.3"/>
<text x="241.6" y="227.2" text-anchor="middle" font-size="12.9" font-family="Liberation Sans, Arial, Helvetica, sans-serif" fill="#000" stroke="#000" stroke-width="0.28">40</text>
<line x1="325.4" x2="325.4" y1="199.8" y2="207.8" stroke="#333" stroke-width="1.3"/>
<text x="325.4" y="227.2" text-anchor="middle" font-size="12.9" font-family="Liberation Sans, Arial, Helvetica, sans-serif" fill="#000" stroke="#000" stroke-width="0.28">60</text>
<line x1="409.2" x2="409.2" y1="199.8" y2="207.8" stroke="#333" stroke-width="1.3"/>
<text x="409.2" y="227.2" text-anchor="middle" font-size="12.9" font-family="Liberation Sans, Arial, Helvetica, sans-serif" fill="#000" stroke="#000" stroke-width="0.28">80</text>
<line x1="493.0" x2="493.0" y1="199.8" y2="207.8" stroke="#333" stroke-width="1.3"/>
<text x="493.0" y="227.2" text-anchor="middle" font-size="12.9" font-family="Liberation Sans, Arial, Helvetica, sans-serif" fill="#000" stroke="#000" stroke-width="0.28">100</text>
<text x="283.4" y="256.7" text-anchor="middle" font-size="12.4" font-family="Liberation Sans, Arial, Helvetica, sans-serif" fill="#000" stroke="#000" stroke-width="0.28">Time</text>
<line x1="49.7" x2="57.5" y1="8.4" y2="8.4" stroke="#444" stroke-width="1.3"/>
<text transform="translate(40.1,8.4) rotate(-90)" text-anchor="middle" font-size="12.9" font-family="Liberation Sans, Arial, Helvetica, sans-serif" fill="#000" stroke="#000" stroke-width="0.28">0.8</text>
<line x1="49.7" x2="57.5" y1="47.1" y2="47.1" stroke="#444" stroke-width="1.3"/>
<text transform="translate(40.1,47.1) rotate(-90)" text-anchor="middle" font-size="12.9" font-family="Liberation Sans, Arial, Helvetica, sans-serif" fill="#000" stroke="#000" stroke-width="0.28">0.6</text>
<line x1="49.7" x2="57.5" y1="85.8" y2="85.8" stroke="#444" stroke-width="1.3"/>
<text transform="translate(40.1,85.8) rotate(-90)" text-anchor="middle" font-size="12.9" font-family="Liberation Sans, Arial, Helvetica, sans-serif" fill="#000" stroke="#000" stroke-width="0.28">0.4</text>
<line x1="49.7" x2="57.5" y1="124.5" y2="124.5" stroke="#444" stroke-width="1.3"/>
<text transform="translate(40.1,124.5) rotate(-90)" text-anchor="middle" font-size="12.9" font-family="Liberation Sans, Arial, Helvetica, sans-serif" fill="#000" stroke="#000" stroke-width="0.28">0.2</text>
<line x1="49.7" x2="57.5" y1="163.2" y2="163.2" stroke="#444" stroke-width="1.3"/>
<text transform="translate(40.1,163.2) rotate(-90)" text-anchor="middle" font-size="12.9" font-family="Liberation Sans, Arial, Helvetica, sans-serif" fill="#000" stroke="#000" stroke-width="0.28">0.0</text>
<text transform="translate(9.7,100) rotate(-90)" text-anchor="middle" font-size="12.4" font-family="Liberation Sans, Arial, Helvetica, sans-serif" fill="#000" stroke="#000" stroke-width="0.28">Beta(t)</text>
<rect x="57.45" y="0.50" width="91.25" height="45.00" fill="#fff" stroke="#444" stroke-width="1"/>
<line x1="68.2" x2="91.6" y1="15.4" y2="15.4" stroke="#0000ff" stroke-width="1.8"/>
<line x1="67.9" x2="91.6" y1="30.6" y2="30.6" stroke="#ff0000" stroke-width="1.8" stroke-dasharray="7.4 5.4"/>
<text x="102.2" y="20.7" font-size="12.4" font-family="Liberation Sans, Arial, Helvetica, sans-serif" fill="#000" stroke="#000" stroke-width="0.38">Beta(t)</text>
<text x="102.2" y="35.8" font-size="12.4" font-family="Liberation Sans, Arial, Helvetica, sans-serif" fill="#000" stroke="#000" stroke-width="0.38">95% CI</text>
</g>
<g>
<g fill="none" stroke-linejoin="round">
<path d="M639.88,26.10 L641.38,26.03 L642.88,25.95 L644.38,25.86 L645.88,25.76 L647.38,25.64 L648.88,25.51 L650.38,25.37 L651.88,25.21 L653.38,25.03 L654.88,24.84 L656.38,24.62 L657.88,24.38 L659.38,24.12 L660.88,23.84 L662.38,23.53 L663.88,23.19 L665.38,22.82 L666.88,22.43 L668.38,22.01 L669.88,21.56 L671.38,21.10 L672.88,20.61 L674.38,20.12 L675.88,19.61 L677.38,19.10 L678.88,18.57 L680.38,18.05 L681.88,17.53 L683.38,17.01 L684.88,16.50 L686.38,16.00 L687.88,15.51 L689.38,15.04 L690.88,14.58 L692.38,14.15 L693.88,13.74 L695.38,13.35 L696.88,12.99 L698.38,12.65 L699.88,12.32 L701.38,12.02 L702.88,11.74 L704.38,11.48 L705.88,11.24 L707.38,11.02 L708.88,10.82 L710.38,10.64 L711.88,10.48 L713.38,10.34 L714.88,10.21 L716.38,10.11 L717.88,10.02 L719.38,9.96 L720.88,9.91 L722.38,9.87 L723.88,9.86 L725.38,9.86 L726.88,9.88 L728.38,9.91 L729.88,9.96 L731.38,10.03 L732.88,10.12 L734.38,10.21 L735.88,10.33 L737.38,10.46 L738.88,10.60 L740.38,10.76 L741.88,10.93 L743.38,11.11 L744.88,11.31 L746.38,11.52 L747.88,11.73 L749.38,11.96 L750.88,12.20 L752.38,12.44 L753.88,12.69 L755.38,12.95 L756.88,13.21 L758.38,13.48 L759.88,13.75 L761.38,14.03 L762.88,14.31 L764.38,14.59 L765.88,14.87 L767.38,15.15 L768.88,15.43 L770.38,15.71 L771.88,15.99 L773.38,16.27 L774.88,16.54 L776.38,16.81 L777.88,17.07 L779.38,17.33 L780.88,17.58 L782.38,17.82 L783.88,18.06 L785.38,18.29 L786.88,18.50 L788.38,18.71 L789.88,18.91 L791.38,19.09 L792.88,19.27 L794.38,19.43 L795.88,19.59 L797.38,19.74 L798.88,19.88 L800.38,20.01 L801.88,20.14 L803.38,20.25 L804.88,20.37 L806.38,20.47 L807.88,20.57 L809.38,20.66 L810.88,20.75 L812.38,20.84 L813.88,20.92 L815.38,20.99 L816.88,21.07 L818.38,21.14 L819.88,21.21 L821.38,21.27 L822.88,21.34 L824.38,21.40 L825.88,21.46 L827.38,21.53 L828.88,21.59 L830.38,21.65 L831.88,21.72 L833.38,21.78 L834.88,21.85 L836.38,21.92 L837.88,21.99 L839.38,22.05 L840.88,22.12 L842.38,22.19 L843.88,22.26 L845.38,22.32 L846.88,22.38 L848.38,22.44 L849.88,22.50 L851.38,22.55 L852.88,22.60 L854.38,22.64 L855.88,22.68 L857.38,22.71 L858.88,22.73 L860.38,22.75 L861.88,22.76 L863.38,22.76 L864.88,22.75 L866.38,22.74 L867.88,22.71 L869.38,22.68 L870.88,22.63 L872.38,22.57 L873.88,22.51 L875.38,22.43 L876.88,22.33 L878.38,22.23 L879.88,22.11 L881.38,21.97 L882.88,21.82 L884.38,21.66 L885.88,21.48 L887.38,21.28 L888.88,21.07 L890.38,20.84 L891.88,20.60 L893.38,20.33 L894.88,20.05 L896.38,19.76 L897.88,19.46 L899.38,19.15 L900.88,18.83 L902.38,18.50 L903.88,18.17 L905.38,17.83 L906.88,17.50 L908.38,17.16 L909.88,16.83 L911.38,16.49 L912.88,16.17 L914.38,15.85 L915.88,15.53 L917.38,15.23 L918.88,14.94 L920.38,14.66 L921.88,14.40 L923.38,14.15 L924.88,13.92 L926.38,13.71 L927.88,13.52 L929.38,13.36 L930.88,13.22 L932.38,13.10 L933.88,13.01 L935.38,12.96 L936.88,12.93 L938.38,12.93 L939.88,12.97 L941.38,13.05 L942.88,13.16 L944.38,13.31 L945.88,13.48 L947.38,13.69 L948.88,13.93 L950.38,14.19 L951.88,14.47 L953.38,14.78 L954.88,15.11 L956.38,15.45 L957.88,15.81 L959.38,16.19 L960.88,16.57 L962.38,16.97 L963.88,17.37 L965.38,17.78 L966.88,18.19 L968.38,18.61 L969.88,19.02 L971.38,19.43 L972.88,19.84 L974.38,20.23 L975.88,20.62 L977.38,21.00 L978.88,21.37 L980.38,21.72 L981.88,22.05 L983.38,22.37 L984.88,22.66 L986.38,22.94 L987.88,23.19 L989.38,23.43 L990.88,23.65 L992.38,23.85 L993.88,24.03 L995.38,24.19 L996.88,24.34 L998.38,24.47 L999.88,24.58 L1001.38,24.68 L1002.88,24.77 L1004.38,24.83 L1005.88,24.89 L1007.38,24.93 L1008.88,24.96 L1010.38,24.98 L1011.88,24.98 L1013.38,24.97 L1014.88,24.95 L1016.38,24.92 L1017.88,24.88 L1019.38,24.83 L1020.88,24.77 L1022.38,24.70 L1023.88,24.62 L1025.38,24.53 L1026.88,24.44 L1028.38,24.34 L1029.88,24.23 L1031.38,24.11 L1032.88,23.99 L1034.38,23.87 L1034.77,23.83" stroke="#ff2222" stroke-width="1.05" stroke-dasharray="3.4 3"/>
<path d="M640.34,55.04 L641.84,53.33 L643.34,51.64 L644.84,49.96 L646.34,48.30 L647.84,46.67 L649.34,45.06 L650.84,43.49 L652.34,41.95 L653.84,40.45 L655.34,38.99 L656.84,37.59 L658.34,36.23 L659.84,34.93 L661.34,33.69 L662.84,32.52 L664.34,31.41 L665.84,30.37 L667.34,29.40 L668.84,28.50 L670.34,27.66 L671.84,26.89 L673.34,26.18 L674.84,25.52 L676.34,24.92 L677.84,24.38 L679.34,23.88 L680.84,23.43 L682.34,23.03 L683.84,22.67 L685.34,22.36 L686.84,22.08 L688.34,21.83 L689.84,21.62 L691.34,21.44 L692.84,21.29 L694.34,21.16 L695.84,21.06 L697.34,20.97 L698.84,20.90 L700.34,20.85 L701.84,20.81 L703.34,20.78 L704.84,20.75 L706.34,20.73 L707.84,20.71 L709.34,20.70 L710.84,20.68 L712.34,20.66 L713.84,20.64 L715.34,20.62 L716.84,20.60 L718.34,20.58 L719.84,20.57 L721.34,20.55 L722.84,20.54 L724.34,20.53 L725.84,20.52 L727.34,20.51 L728.84,20.50 L730.34,20.50 L731.84,20.50 L733.34,20.50 L734.84,20.51 L736.34,20.52 L737.84,20.53 L739.34,20.55 L740.84,20.57 L742.34,20.59 L743.84,20.62 L745.34,20.66 L746.84,20.69 L748.34,20.74 L749.84,20.79 L751.34,20.84 L752.84,20.91 L754.34,20.97 L755.84,21.05 L757.34,21.13 L758.84,21.21 L760.34,21.31 L761.84,21.41 L763.34,21.52 L764.84,21.63 L766.34,21.75 L767.84,21.89 L769.34,22.03 L770.84,22.17 L772.34,22.33 L773.84,22.49 L775.34,22.67 L776.84,22.85 L778.34,23.04 L779.84,23.24 L781.34,23.44 L782.84,23.66 L784.34,23.89 L785.84,24.12 L787.34,24.37 L788.84,24.62 L790.34,24.88 L791.84,25.16 L793.34,25.44 L794.84,25.73 L796.34,26.04 L797.84,26.35 L799.34,26.67 L800.84,27.00 L802.34,27.34 L803.84,27.68 L805.34,28.02 L806.84,28.36 L808.34,28.70 L809.84,29.04 L811.34,29.37 L812.84,29.70 L814.34,30.02 L815.84,30.33 L817.34,30.63 L818.84,30.91 L820.34,31.18 L821.84,31.43 L823.34,31.66 L824.84,31.88 L826.34,32.06 L827.84,32.23 L829.34,32.38 L830.84,32.50 L832.34,32.60 L833.84,32.68 L835.34,32.74 L836.84,32.78 L838.34,32.80 L839.84,32.80 L841.34,32.78 L842.84,32.75 L844.34,32.70 L845.84,32.64 L847.34,32.56 L848.84,32.47 L850.34,32.36 L851.84,32.24 L853.34,32.11 L854.84,31.97 L856.34,31.82 L857.84,31.65 L859.34,31.48 L860.84,31.30 L862.34,31.10 L863.84,30.90 L865.34,30.70 L866.84,30.49 L868.34,30.27 L869.84,30.06 L871.34,29.84 L872.84,29.62 L874.34,29.40 L875.84,29.18 L877.34,28.96 L878.84,28.75 L880.34,28.55 L881.84,28.35 L883.34,28.15 L884.84,27.97 L886.34,27.79 L887.84,27.63 L889.34,27.47 L890.84,27.33 L892.34,27.21 L893.84,27.10 L895.34,27.00 L896.84,26.93 L898.34,26.87 L899.84,26.83 L901.34,26.81 L902.84,26.80 L904.34,26.81 L905.84,26.84 L907.34,26.87 L908.84,26.92 L910.34,26.99 L911.84,27.06 L913.34,27.14 L914.84,27.23 L916.34,27.32 L917.84,27.42 L919.34,27.53 L920.84,27.64 L922.34,27.75 L923.84,27.86 L925.34,27.98 L926.84,28.09 L928.34,28.20 L929.84,28.30 L931.34,28.41 L932.84,28.50 L934.34,28.60 L935.84,28.68 L937.34,28.76 L938.84,28.84 L940.34,28.91 L941.84,28.98 L943.34,29.05 L944.84,29.13 L946.34,29.21 L947.84,29.29 L949.34,29.37 L950.84,29.47 L952.34,29.57 L953.84,29.68 L955.34,29.80 L956.84,29.94 L958.34,30.08 L959.84,30.25 L961.34,30.43 L962.84,30.64 L964.34,30.87 L965.84,31.13 L967.34,31.41 L968.84,31.74 L970.34,32.10 L971.84,32.50 L973.34,32.94 L974.84,33.43 L976.34,33.97 L977.84,34.56 L979.34,35.21 L980.84,35.91 L982.34,36.68 L983.84,37.50 L985.34,38.40 L986.84,39.37 L988.34,40.40 L989.84,41.52 L991.34,42.71 L992.84,43.99 L994.34,45.35 L995.84,46.80 L997.34,48.35 L998.84,50.00 L1000.34,51.77 L1001.84,53.64 L1003.34,55.62 L1004.84,57.68 L1006.34,59.82 L1007.84,62.01 L1009.34,64.26 L1010.84,66.54 L1012.34,68.84 L1013.84,71.14 L1015.34,73.45 L1016.84,75.75 L1018.34,78.08 L1019.84,80.45 L1021.34,82.88 L1022.84,85.39 L1024.34,87.99 L1025.84,90.72 L1027.34,93.57 L1028.84,96.55 L1030.34,99.66 L1031.84,102.90 L1033.34,106.25 L1034.84,109.72 L1036.34,113.29 L1037.84,116.95 L1039.34,120.71 L1040.84,124.56 L1042.34,128.51 L1043.84,132.57 L1045.34,136.75 L1046.84,141.07 L1048.34,145.53 L1049.84,150.14 L1051.34,154.92 L1052.84,159.87 L1054.34,165.01 L1054.61,165.96" stroke="#ff2222" stroke-width="1.05" stroke-dasharray="3.4 3"/>
<path d="M640.34,40.50 L641.84,39.45 L643.34,38.43 L644.84,37.44 L646.34,36.46 L647.84,35.52 L649.34,34.60 L650.84,33.70 L652.34,32.83 L653.84,31.98 L655.34,31.15 L656.84,30.35 L658.34,29.57 L659.84,28.81 L661.34,28.08 L662.84,27.37 L664.34,26.68 L665.84,26.01 L667.34,25.36 L668.84,24.74 L670.34,24.14 L671.84,23.55 L673.34,22.99 L674.84,22.45 L676.34,21.93 L677.84,21.43 L679.34,20.95 L680.84,20.49 L682.34,20.05 L683.84,19.63 L685.34,19.22 L686.84,18.84 L688.34,18.47 L689.84,18.12 L691.34,17.79 L692.84,17.48 L694.34,17.18 L695.84,16.90 L697.34,16.64 L698.84,16.40 L700.34,16.17 L701.84,15.96 L703.34,15.76 L704.84,15.58 L706.34,15.41 L707.84,15.26 L709.34,15.13 L710.84,15.01 L712.34,14.90 L713.84,14.81 L715.34,14.74 L716.84,14.67 L718.34,14.62 L719.84,14.58 L721.34,14.56 L722.84,14.55 L724.34,14.55 L725.84,14.56 L727.34,14.59 L728.84,14.63 L730.34,14.68 L731.84,14.73 L733.34,14.81 L734.84,14.89 L736.34,14.98 L737.84,15.08 L739.34,15.19 L740.84,15.31 L742.34,15.45 L743.84,15.59 L745.34,15.74 L746.84,15.89 L748.34,16.06 L749.84,16.23 L751.34,16.42 L752.84,16.61 L754.34,16.80 L755.84,17.01 L757.34,17.22 L758.84,17.44 L760.34,17.66 L761.84,17.89 L763.34,18.13 L764.84,18.37 L766.34,18.62 L767.84,18.87 L769.34,19.13 L770.84,19.39 L772.34,19.66 L773.84,19.92 L775.34,20.20 L776.84,20.47 L778.34,20.74 L779.84,21.02 L781.34,21.29 L782.84,21.57 L784.34,21.85 L785.84,22.12 L787.34,22.39 L788.84,22.67 L790.34,22.93 L791.84,23.20 L793.34,23.46 L794.84,23.72 L796.34,23.97 L797.84,24.22 L799.34,24.46 L800.84,24.70 L802.34,24.93 L803.84,25.15 L805.34,25.37 L806.84,25.58 L808.34,25.77 L809.84,25.96 L811.34,26.14 L812.84,26.31 L814.34,26.47 L815.84,26.62 L817.34,26.75 L818.84,26.88 L820.34,26.99 L821.84,27.09 L823.34,27.17 L824.84,27.25 L826.34,27.31 L827.84,27.36 L829.34,27.40 L830.84,27.43 L832.34,27.45 L833.84,27.46 L835.34,27.46 L836.84,27.45 L838.34,27.43 L839.84,27.40 L841.34,27.37 L842.84,27.32 L844.34,27.27 L845.84,27.21 L847.34,27.14 L848.84,27.07 L850.34,26.98 L851.84,26.89 L853.34,26.80 L854.84,26.70 L856.34,26.59 L857.84,26.48 L859.34,26.36 L860.84,26.24 L862.34,26.11 L863.84,25.98 L865.34,25.84 L866.84,25.70 L868.34,25.56 L869.84,25.42 L871.34,25.27 L872.84,25.12 L874.34,24.96 L875.84,24.81 L877.34,24.65 L878.84,24.49 L880.34,24.33 L881.84,24.17 L883.34,24.01 L884.84,23.85 L886.34,23.69 L887.84,23.53 L889.34,23.37 L890.84,23.21 L892.34,23.06 L893.84,22.90 L895.34,22.75 L896.84,22.59 L898.34,22.44 L899.84,22.30 L901.34,22.15 L902.84,22.01 L904.34,21.88 L905.84,21.74 L907.34,21.61 L908.84,21.49 L910.34,21.37 L911.84,21.26 L913.34,21.15 L914.84,21.04 L916.34,20.94 L917.84,20.85 L919.34,20.77 L920.84,20.69 L922.34,20.62 L923.84,20.55 L925.34,20.50 L926.84,20.45 L928.34,20.41 L929.84,20.38 L931.34,20.35 L932.84,20.34 L934.34,20.33 L935.84,20.34 L937.34,20.36 L938.84,20.38 L940.34,20.42 L941.84,20.46 L943.34,20.52 L944.84,20.59 L946.34,20.67 L947.84,20.77 L949.34,20.87 L950.84,20.99 L952.34,21.12 L953.84,21.27 L955.34,21.44 L956.84,21.63 L958.34,21.83 L959.84,22.06 L961.34,22.31 L962.84,22.59 L964.34,22.89 L965.84,23.21 L967.34,23.57 L968.84,23.95 L970.34,24.36 L971.84,24.81 L973.34,25.29 L974.84,25.80 L976.34,26.35 L977.84,26.93 L979.34,27.56 L980.84,28.22 L982.34,28.92 L983.84,29.65 L985.34,30.41 L986.84,31.19 L988.34,32.00 L989.84,32.83 L991.34,33.68 L992.84,34.54 L994.34,35.41 L995.84,36.30 L997.34,37.21 L998.84,38.13 L1000.34,39.08 L1001.84,40.05 L1003.34,41.05 L1004.84,42.09 L1006.34,43.15 L1007.84,44.26 L1009.34,45.41 L1010.84,46.59 L1012.34,47.81 L1013.84,49.08 L1015.34,50.38 L1016.84,51.73 L1018.34,53.11 L1019.84,54.54 L1021.34,56.00 L1022.84,57.51 L1024.34,59.05 L1025.84,60.64 L1027.34,62.27 L1028.84,63.94 L1030.34,65.65 L1031.84,67.40 L1033.34,69.20 L1034.84,71.03 L1036.34,72.91 L1037.84,74.83 L1039.34,76.80 L1040.84,78.80 L1042.34,80.85 L1043.84,82.94 L1045.34,85.07 L1046.84,87.25 L1048.34,89.47 L1049.84,91.73 L1051.34,94.04 L1052.84,96.39 L1054.34,98.78 L1055.84,101.22 L1057.34,103.70 L1058.84,106.22 L1059.64,107.59" stroke="#0404ff" stroke-width="1.5" stroke-linecap="butt"/>
<line x1="623.5" x2="1075.8" y1="23.90" y2="23.90" stroke="#222" stroke-width="1.8"/>
<path d="M639.88,26.10 L641.38,26.03 L642.88,25.95 L644.38,25.86 L645.88,25.76 L647.38,25.64 L648.88,25.51 L650.38,25.37 L651.88,25.21 L653.38,25.03 L654.88,24.84 L656.38,24.62 L657.88,24.38 L659.38,24.12 L660.88,23.84 L662.38,23.53 L663.88,23.19 L665.38,22.82 L666.88,22.43 L668.38,22.01 L669.88,21.56 L671.38,21.10 L672.88,20.61 L674.38,20.12 L675.88,19.61 L677.38,19.10 L678.88,18.57 L680.38,18.05 L681.88,17.53 L683.38,17.01 L684.88,16.50 L686.38,16.00 L687.88,15.51 L689.38,15.04 L690.88,14.58 L692.38,14.15 L693.88,13.74 L695.38,13.35 L696.88,12.99 L698.38,12.65 L699.88,12.32 L701.38,12.02 L702.88,11.74 L704.38,11.48 L705.88,11.24 L707.38,11.02 L708.88,10.82 L710.38,10.64 L711.88,10.48 L713.38,10.34 L714.88,10.21 L716.38,10.11 L717.88,10.02 L719.38,9.96 L720.88,9.91 L722.38,9.87 L723.88,9.86 L725.38,9.86 L726.88,9.88 L728.38,9.91 L729.88,9.96 L731.38,10.03 L732.88,10.12 L734.38,10.21 L735.88,10.33 L737.38,10.46 L738.88,10.60 L740.38,10.76 L741.88,10.93 L743.38,11.11 L744.88,11.31 L746.38,11.52 L747.88,11.73 L749.38,11.96 L750.88,12.20 L752.38,12.44 L753.88,12.69 L755.38,12.95 L756.88,13.21 L758.38,13.48 L759.88,13.75 L761.38,14.03 L762.88,14.31 L764.38,14.59 L765.88,14.87 L767.38,15.15 L768.88,15.43 L770.38,15.71 L771.88,15.99 L773.38,16.27 L774.88,16.54 L776.38,16.81 L777.88,17.07 L779.38,17.33 L780.88,17.58 L782.38,17.82 L783.88,18.06 L785.38,18.29 L786.88,18.50 L788.38,18.71 L789.88,18.91 L791.38,19.09 L792.88,19.27 L794.38,19.43 L795.88,19.59 L797.38,19.74 L798.88,19.88 L800.38,20.01 L801.88,20.14 L803.38,20.25 L804.88,20.37 L806.38,20.47 L807.88,20.57 L809.38,20.66 L810.88,20.75 L812.38,20.84 L813.88,20.92 L815.38,20.99 L816.88,21.07 L818.38,21.14 L819.88,21.21 L821.38,21.27 L822.88,21.34 L824.38,21.40 L825.88,21.46 L827.38,21.53 L828.88,21.59 L830.38,21.65 L831.88,21.72 L833.38,21.78 L834.88,21.85 L836.38,21.92 L837.88,21.99 L839.38,22.05 L840.88,22.12 L842.38,22.19 L843.88,22.26 L845.38,22.32 L846.88,22.38 L848.38,22.44 L849.88,22.50 L851.38,22.55 L852.88,22.60 L854.38,22.64 L855.88,22.68 L857.38,22.71 L858.88,22.73 L860.38,22.75 L861.88,22.76 L863.38,22.76 L864.88,22.75 L866.38,22.74 L867.88,22.71 L869.38,22.68 L870.88,22.63 L872.38,22.57 L873.88,22.51 L875.38,22.43 L876.88,22.33 L878.38,22.23 L879.88,22.11 L881.38,21.97 L882.88,21.82 L884.38,21.66 L885.88,21.48 L887.38,21.28 L888.88,21.07 L890.38,20.84 L891.88,20.60 L893.38,20.33 L894.88,20.05 L896.38,19.76 L897.88,19.46 L899.38,19.15 L900.88,18.83 L902.38,18.50 L903.88,18.17 L905.38,17.83 L906.88,17.50 L908.38,17.16 L909.88,16.83 L911.38,16.49 L912.88,16.17 L914.38,15.85 L915.88,15.53 L917.38,15.23 L918.88,14.94 L920.38,14.66 L921.88,14.40 L923.38,14.15 L924.88,13.92 L926.38,13.71 L927.88,13.52 L929.38,13.36 L930.88,13.22 L932.38,13.10 L933.88,13.01 L935.38,12.96 L936.88,12.93 L938.38,12.93 L939.88,12.97 L941.38,13.05 L942.88,13.16 L944.38,13.31 L945.88,13.48 L947.38,13.69 L948.88,13.93 L950.38,14.19 L951.88,14.47 L953.38,14.78 L954.88,15.11 L956.38,15.45 L957.88,15.81 L959.38,16.19 L960.88,16.57 L962.38,16.97 L963.88,17.37 L965.38,17.78 L966.88,18.19 L968.38,18.61 L969.88,19.02 L971.38,19.43 L972.88,19.84 L974.38,20.23 L975.88,20.62 L977.38,21.00 L978.88,21.37 L980.38,21.72 L981.88,22.05 L983.38,22.37 L984.88,22.66 L986.38,22.94 L987.88,23.19 L989.38,23.43 L990.88,23.65 L992.38,23.85 L993.88,24.03 L995.38,24.19 L996.88,24.34 L998.38,24.47 L999.88,24.58 L1001.38,24.68 L1002.88,24.77 L1004.38,24.83 L1005.88,24.89 L1007.38,24.93 L1008.88,24.96 L1010.38,24.98 L1011.88,24.98 L1013.38,24.97 L1014.88,24.95 L1016.38,24.92 L1017.88,24.88 L1019.38,24.83 L1020.88,24.77 L1022.38,24.70 L1023.88,24.62 L1025.38,24.53 L1026.88,24.44 L1028.38,24.34 L1029.88,24.23 L1031.38,24.11 L1032.88,23.99 L1034.38,23.87 L1034.77,23.83" stroke="#ff2222" stroke-width="1.05" stroke-dasharray="3.4 3" opacity="0.45"/>
<path d="M640.34,55.04 L641.84,53.33 L643.34,51.64 L644.84,49.96 L646.34,48.30 L647.84,46.67 L649.34,45.06 L650.84,43.49 L652.34,41.95 L653.84,40.45 L655.34,38.99 L656.84,37.59 L658.34,36.23 L659.84,34.93 L661.34,33.69 L662.84,32.52 L664.34,31.41 L665.84,30.37 L667.34,29.40 L668.84,28.50 L670.34,27.66 L671.84,26.89 L673.34,26.18 L674.84,25.52 L676.34,24.92 L677.84,24.38 L679.34,23.88 L680.84,23.43 L682.34,23.03 L683.84,22.67 L685.34,22.36 L686.84,22.08 L688.34,21.83 L689.84,21.62 L691.34,21.44 L692.84,21.29 L694.34,21.16 L695.84,21.06 L697.34,20.97 L698.84,20.90 L700.34,20.85 L701.84,20.81 L703.34,20.78 L704.84,20.75 L706.34,20.73 L707.84,20.71 L709.34,20.70 L710.84,20.68 L712.34,20.66 L713.84,20.64 L715.34,20.62 L716.84,20.60 L718.34,20.58 L719.84,20.57 L721.34,20.55 L722.84,20.54 L724.34,20.53 L725.84,20.52 L727.34,20.51 L728.84,20.50 L730.34,20.50 L731.84,20.50 L733.34,20.50 L734.84,20.51 L736.34,20.52 L737.84,20.53 L739.34,20.55 L740.84,20.57 L742.34,20.59 L743.84,20.62 L745.34,20.66 L746.84,20.69 L748.34,20.74 L749.84,20.79 L751.34,20.84 L752.84,20.91 L754.34,20.97 L755.84,21.05 L757.34,21.13 L758.84,21.21 L760.34,21.31 L761.84,21.41 L763.34,21.52 L764.84,21.63 L766.34,21.75 L767.84,21.89 L769.34,22.03 L770.84,22.17 L772.34,22.33 L773.84,22.49 L775.34,22.67 L776.84,22.85 L778.34,23.04 L779.84,23.24 L781.34,23.44 L782.84,23.66 L784.34,23.89 L785.84,24.12 L787.34,24.37 L788.84,24.62 L790.34,24.88 L791.84,25.16 L793.34,25.44 L794.84,25.73 L796.34,26.04 L797.84,26.35 L799.34,26.67 L800.84,27.00 L802.34,27.34 L803.84,27.68 L805.34,28.02 L806.84,28.36 L808.34,28.70 L809.84,29.04 L811.34,29.37 L812.84,29.70 L814.34,30.02 L815.84,30.33 L817.34,30.63 L818.84,30.91 L820.34,31.18 L821.84,31.43 L823.34,31.66 L824.84,31.88 L826.34,32.06 L827.84,32.23 L829.34,32.38 L830.84,32.50 L832.34,32.60 L833.84,32.68 L835.34,32.74 L836.84,32.78 L838.34,32.80 L839.84,32.80 L841.34,32.78 L842.84,32.75 L844.34,32.70 L845.84,32.64 L847.34,32.56 L848.84,32.47 L850.34,32.36 L851.84,32.24 L853.34,32.11 L854.84,31.97 L856.34,31.82 L857.84,31.65 L859.34,31.48 L860.84,31.30 L862.34,31.10 L863.84,30.90 L865.34,30.70 L866.84,30.49 L868.34,30.27 L869.84,30.06 L871.34,29.84 L872.84,29.62 L874.34,29.40 L875.84,29.18 L877.34,28.96 L878.84,28.75 L880.34,28.55 L881.84,28.35 L883.34,28.15 L884.84,27.97 L886.34,27.79 L887.84,27.63 L889.34,27.47 L890.84,27.33 L892.34,27.21 L893.84,27.10 L895.34,27.00 L896.84,26.93 L898.34,26.87 L899.84,26.83 L901.34,26.81 L902.84,26.80 L904.34,26.81 L905.84,26.84 L907.34,26.87 L908.84,26.92 L910.34,26.99 L911.84,27.06 L913.34,27.14 L914.84,27.23 L916.34,27.32 L917.84,27.42 L919.34,27.53 L920.84,27.64 L922.34,27.75 L923.84,27.86 L925.34,27.98 L926.84,28.09 L928.34,28.20 L929.84,28.30 L931.34,28.41 L932.84,28.50 L934.34,28.60 L935.84,28.68 L937.34,28.76 L938.84,28.84 L940.34,28.91 L941.84,28.98 L943.34,29.05 L944.84,29.13 L946.34,29.21 L947.84,29.29 L949.34,29.37 L950.84,29.47 L952.34,29.57 L953.84,29.68 L955.34,29.80 L956.84,29.94 L958.34,30.08 L959.84,30.25 L961.34,30.43 L962.84,30.64 L964.34,30.87 L965.84,31.13 L967.34,31.41 L968.84,31.74 L970.34,32.10 L971.84,32.50 L973.34,32.94 L974.84,33.43 L976.34,33.97 L977.84,34.56 L979.34,35.21 L980.84,35.91 L982.34,36.68 L983.84,37.50 L985.34,38.40 L986.84,39.37 L988.34,40.40 L989.84,41.52 L991.34,42.71 L992.84,43.99 L994.34,45.35 L995.84,46.80 L997.34,48.35 L998.84,50.00 L1000.34,51.77 L1001.84,53.64 L1003.34,55.62 L1004.84,57.68 L1006.34,59.82 L1007.84,62.01 L1009.34,64.26 L1010.84,66.54 L1012.34,68.84 L1013.84,71.14 L1015.34,73.45 L1016.84,75.75 L1018.34,78.08 L1019.84,80.45 L1021.34,82.88 L1022.84,85.39 L1024.34,87.99 L1025.84,90.72 L1027.34,93.57 L1028.84,96.55 L1030.34,99.66 L1031.84,102.90 L1033.34,106.25 L1034.84,109.72 L1036.34,113.29 L1037.84,116.95 L1039.34,120.71 L1040.84,124.56 L1042.34,128.51 L1043.84,132.57 L1045.34,136.75 L1046.84,141.07 L1048.34,145.53 L1049.84,150.14 L1051.34,154.92 L1052.84,159.87 L1054.34,165.01 L1054.61,165.96" stroke="#ff2222" stroke-width="1.05" stroke-dasharray="3.4 3" opacity="0.45"/>
<path d="M640.34,40.50 L641.84,39.45 L643.34,38.43 L644.84,37.44 L646.34,36.46 L647.84,35.52 L649.34,34.60 L650.84,33.70 L652.34,32.83 L653.84,31.98 L655.34,31.15 L656.84,30.35 L658.34,29.57 L659.84,28.81 L661.34,28.08 L662.84,27.37 L664.34,26.68 L665.84,26.01 L667.34,25.36 L668.84,24.74 L670.34,24.14 L671.84,23.55 L673.34,22.99 L674.84,22.45 L676.34,21.93 L677.84,21.43 L679.34,20.95 L680.84,20.49 L682.34,20.05 L683.84,19.63 L685.34,19.22 L686.84,18.84 L688.34,18.47 L689.84,18.12 L691.34,17.79 L692.84,17.48 L694.34,17.18 L695.84,16.90 L697.34,16.64 L698.84,16.40 L700.34,16.17 L701.84,15.96 L703.34,15.76 L704.84,15.58 L706.34,15.41 L707.84,15.26 L709.34,15.13 L710.84,15.01 L712.34,14.90 L713.84,14.81 L715.34,14.74 L716.84,14.67 L718.34,14.62 L719.84,14.58 L721.34,14.56 L722.84,14.55 L724.34,14.55 L725.84,14.56 L727.34,14.59 L728.84,14.63 L730.34,14.68 L731.84,14.73 L733.34,14.81 L734.84,14.89 L736.34,14.98 L737.84,15.08 L739.34,15.19 L740.84,15.31 L742.34,15.45 L743.84,15.59 L745.34,15.74 L746.84,15.89 L748.34,16.06 L749.84,16.23 L751.34,16.42 L752.84,16.61 L754.34,16.80 L755.84,17.01 L757.34,17.22 L758.84,17.44 L760.34,17.66 L761.84,17.89 L763.34,18.13 L764.84,18.37 L766.34,18.62 L767.84,18.87 L769.34,19.13 L770.84,19.39 L772.34,19.66 L773.84,19.92 L775.34,20.20 L776.84,20.47 L778.34,20.74 L779.84,21.02 L781.34,21.29 L782.84,21.57 L784.34,21.85 L785.84,22.12 L787.34,22.39 L788.84,22.67 L790.34,22.93 L791.84,23.20 L793.34,23.46 L794.84,23.72 L796.34,23.97 L797.84,24.22 L799.34,24.46 L800.84,24.70 L802.34,24.93 L803.84,25.15 L805.34,25.37 L806.84,25.58 L808.34,25.77 L809.84,25.96 L811.34,26.14 L812.84,26.31 L814.34,26.47 L815.84,26.62 L817.34,26.75 L818.84,26.88 L820.34,26.99 L821.84,27.09 L823.34,27.17 L824.84,27.25 L826.34,27.31 L827.84,27.36 L829.34,27.40 L830.84,27.43 L832.34,27.45 L833.84,27.46 L835.34,27.46 L836.84,27.45 L838.34,27.43 L839.84,27.40 L841.34,27.37 L842.84,27.32 L844.34,27.27 L845.84,27.21 L847.34,27.14 L848.84,27.07 L850.34,26.98 L851.84,26.89 L853.34,26.80 L854.84,26.70 L856.34,26.59 L857.84,26.48 L859.34,26.36 L860.84,26.24 L862.34,26.11 L863.84,25.98 L865.34,25.84 L866.84,25.70 L868.34,25.56 L869.84,25.42 L871.34,25.27 L872.84,25.12 L874.34,24.96 L875.84,24.81 L877.34,24.65 L878.84,24.49 L880.34,24.33 L881.84,24.17 L883.34,24.01 L884.84,23.85 L886.34,23.69 L887.84,23.53 L889.34,23.37 L890.84,23.21 L892.34,23.06 L893.84,22.90 L895.34,22.75 L896.84,22.59 L898.34,22.44 L899.84,22.30 L901.34,22.15 L902.84,22.01 L904.34,21.88 L905.84,21.74 L907.34,21.61 L908.84,21.49 L910.34,21.37 L911.84,21.26 L913.34,21.15 L914.84,21.04 L916.34,20.94 L917.84,20.85 L919.34,20.77 L920.84,20.69 L922.34,20.62 L923.84,20.55 L925.34,20.50 L926.84,20.45 L928.34,20.41 L929.84,20.38 L931.34,20.35 L932.84,20.34 L934.34,20.33 L935.84,20.34 L937.34,20.36 L938.84,20.38 L940.34,20.42 L941.84,20.46 L943.34,20.52 L944.84,20.59 L946.34,20.67 L947.84,20.77 L949.34,20.87 L950.84,20.99 L952.34,21.12 L953.84,21.27 L955.34,21.44 L956.84,21.63 L958.34,21.83 L959.84,22.06 L961.34,22.31 L962.84,22.59 L964.34,22.89 L965.84,23.21 L967.34,23.57 L968.84,23.95 L970.34,24.36 L971.84,24.81 L973.34,25.29 L974.84,25.80 L976.34,26.35 L977.84,26.93 L979.34,27.56 L980.84,28.22 L982.34,28.92 L983.84,29.65 L985.34,30.41 L986.84,31.19 L988.34,32.00 L989.84,32.83 L991.34,33.68 L992.84,34.54 L994.34,35.41 L995.84,36.30 L997.34,37.21 L998.84,38.13 L1000.34,39.08 L1001.84,40.05 L1003.34,41.05 L1004.84,42.09 L1006.34,43.15 L1007.84,44.26 L1009.34,45.41 L1010.84,46.59 L1012.34,47.81 L1013.84,49.08 L1015.34,50.38 L1016.84,51.73 L1018.34,53.11 L1019.84,54.54 L1021.34,56.00 L1022.84,57.51 L1024.34,59.05 L1025.84,60.64 L1027.34,62.27 L1028.84,63.94 L1030.34,65.65 L1031.84,67.40 L1033.34,69.20 L1034.84,71.03 L1036.34,72.91 L1037.84,74.83 L1039.34,76.80 L1040.84,78.80 L1042.34,80.85 L1043.84,82.94 L1045.34,85.07 L1046.84,87.25 L1048.34,89.47 L1049.84,91.73 L1051.34,94.04 L1052.84,96.39 L1054.34,98.78 L1055.84,101.22 L1057.34,103.70 L1058.84,106.22 L1059.64,107.59" stroke="#0404ff" stroke-width="1.5" stroke-linecap="butt" opacity="0.6"/>
</g>
<rect x="622.98" y="0" width="453.35" height="1.3" fill="#686868"/>
<line x1="623.48" x2="623.48" y1="0" y2="200.30" stroke="#555" stroke-width="1.1"/>
<line x1="1075.83" x2="1075.83" y1="0" y2="200.30" stroke="#555" stroke-width="1.6"/>
<line x1="622.98" x2="1076.33" y1="199.95" y2="199.95" stroke="#606060" stroke-width="1.4"/>
<line x1="640.0" x2="640.0" y1="199.8" y2="207.8" stroke="#333" stroke-width="1.3"/>
<text x="640.0" y="227.2" text-anchor="middle" font-size="12.9" font-family="Liberation Sans, Arial, Helvetica, sans-serif" fill="#000" stroke="#000" stroke-width="0.28">0</text>
<line x1="723.8" x2="723.8" y1="199.8" y2="207.8" stroke="#333" stroke-width="1.3"/>
<text x="723.8" y="227.2" text-anchor="middle" font-size="12.9" font-family="Liberation Sans, Arial, Helvetica, sans-serif" fill="#000" stroke="#000" stroke-width="0.28">20</text>
<line x1="807.6" x2="807.6" y1="199.8" y2="207.8" stroke="#333" stroke-width="1.3"/>
<text x="807.6" y="227.2" text-anchor="middle" font-size="12.9" font-family="Liberation Sans, Arial, Helvetica, sans-serif" fill="#000" stroke="#000" stroke-width="0.28">40</text>
<line x1="891.4" x2="891.4" y1="199.8" y2="207.8" stroke="#333" stroke-width="1.3"/>
<text x="891.4" y="227.2" text-anchor="middle" font-size="12.9" font-family="Liberation Sans, Arial, Helvetica, sans-serif" fill="#000" stroke="#000" stroke-width="0.28">60</text>
<line x1="975.2" x2="975.2" y1="199.8" y2="207.8" stroke="#333" stroke-width="1.3"/>
<text x="975.2" y="227.2" text-anchor="middle" font-size="12.9" font-family="Liberation Sans, Arial, Helvetica, sans-serif" fill="#000" stroke="#000" stroke-width="0.28">80</text>
<line x1="1059.0" x2="1059.0" y1="199.8" y2="207.8" stroke="#333" stroke-width="1.3"/>
<text x="1059.0" y="227.2" text-anchor="middle" font-size="12.9" font-family="Liberation Sans, Arial, Helvetica, sans-serif" fill="#000" stroke="#000" stroke-width="0.28">100</text>
<text x="849.4" y="256.7" text-anchor="middle" font-size="12.4" font-family="Liberation Sans, Arial, Helvetica, sans-serif" fill="#000" stroke="#000" stroke-width="0.28">Time</text>
<line x1="615.7" x2="623.5" y1="23.6" y2="23.6" stroke="#444" stroke-width="1.3"/>
<text transform="translate(606.1,23.6) rotate(-90)" text-anchor="middle" font-size="12.9" font-family="Liberation Sans, Arial, Helvetica, sans-serif" fill="#000" stroke="#000" stroke-width="0.28">0</text>
<line x1="615.7" x2="623.5" y1="56.4" y2="56.4" stroke="#444" stroke-width="1.3"/>
<text transform="translate(606.1,56.4) rotate(-90)" text-anchor="middle" font-size="12.9" font-family="Liberation Sans, Arial, Helvetica, sans-serif" fill="#000" stroke="#000" stroke-width="0.28">-1</text>
<line x1="615.7" x2="623.5" y1="89.2" y2="89.2" stroke="#444" stroke-width="1.3"/>
<text transform="translate(606.1,89.2) rotate(-90)" text-anchor="middle" font-size="12.9" font-family="Liberation Sans, Arial, Helvetica, sans-serif" fill="#000" stroke="#000" stroke-width="0.28">-2</text>
<line x1="615.7" x2="623.5" y1="122.0" y2="122.0" stroke="#444" stroke-width="1.3"/>
<text transform="translate(606.1,122.0) rotate(-90)" text-anchor="middle" font-size="12.9" font-family="Liberation Sans, Arial, Helvetica, sans-serif" fill="#000" stroke="#000" stroke-width="0.28">-3</text>
<line x1="615.7" x2="623.5" y1="154.8" y2="154.8" stroke="#444" stroke-width="1.3"/>
<text transform="translate(606.1,154.8) rotate(-90)" text-anchor="middle" font-size="12.9" font-family="Liberation Sans, Arial, Helvetica, sans-serif" fill="#000" stroke="#000" stroke-width="0.28">-4</text>
<line x1="615.7" x2="623.5" y1="187.6" y2="187.6" stroke="#444" stroke-width="1.3"/>
<text transform="translate(606.1,187.6) rotate(-90)" text-anchor="middle" font-size="12.9" font-family="Liberation Sans, Arial, Helvetica, sans-serif" fill="#000" stroke="#000" stroke-width="0.28">-5</text>
<text transform="translate(575.7,100) rotate(-90)" text-anchor="middle" font-size="12.4" font-family="Liberation Sans, Arial, Helvetica, sans-serif" fill="#000" stroke="#000" stroke-width="0.28">Beta(t)</text>
<rect x="984.68" y="154.30" width="91.15" height="45.50" fill="#fff" stroke="#444" stroke-width="1"/>
<line x1="995.4" x2="1018.8" y1="169.7" y2="169.7" stroke="#0000ff" stroke-width="1.8"/>
<line x1="995.1" x2="1018.8" y1="184.9" y2="184.9" stroke="#ff0000" stroke-width="1.8" stroke-dasharray="7.4 5.4"/>
<text x="1029.4" y="174.7" font-size="12.4" font-family="Liberation Sans, Arial, Helvetica, sans-serif" fill="#000" stroke="#000" stroke-width="0.38">Beta(t)</text>
<text x="1029.4" y="189.8" font-size="12.4" font-family="Liberation Sans, Arial, Helvetica, sans-serif" fill="#000" stroke="#000" stroke-width="0.38">95% CI</text>
</g>
<g>
<g fill="none" stroke-linejoin="round">
<path d="M1206.11,32.32 L1207.61,31.65 L1209.11,31.02 L1210.61,30.44 L1212.11,29.89 L1213.61,29.37 L1215.11,28.88 L1216.61,28.41 L1218.11,27.96 L1219.61,27.52 L1221.11,27.09 L1222.61,26.67 L1224.11,26.25 L1225.61,25.82 L1227.11,25.39 L1228.61,24.94 L1230.11,24.48 L1231.61,24.00 L1233.11,23.49 L1234.61,22.96 L1236.11,22.41 L1237.61,21.84 L1239.11,21.26 L1240.61,20.66 L1242.11,20.06 L1243.61,19.46 L1245.11,18.85 L1246.61,18.24 L1248.11,17.64 L1249.61,17.05 L1251.11,16.47 L1252.61,15.90 L1254.11,15.35 L1255.61,14.82 L1257.11,14.32 L1258.61,13.84 L1260.11,13.40 L1261.61,12.98 L1263.11,12.60 L1264.61,12.26 L1266.11,11.94 L1267.61,11.66 L1269.11,11.41 L1270.61,11.19 L1272.11,10.99 L1273.61,10.83 L1275.11,10.69 L1276.61,10.58 L1278.11,10.49 L1279.61,10.43 L1281.11,10.39 L1282.61,10.38 L1284.11,10.39 L1285.61,10.42 L1287.11,10.46 L1288.61,10.53 L1290.11,10.62 L1291.61,10.72 L1293.11,10.84 L1294.61,10.98 L1296.11,11.13 L1297.61,11.30 L1299.11,11.48 L1300.61,11.67 L1302.11,11.87 L1303.61,12.08 L1305.11,12.31 L1306.61,12.54 L1308.11,12.78 L1309.61,13.03 L1311.11,13.28 L1312.61,13.54 L1314.11,13.80 L1315.61,14.07 L1317.11,14.34 L1318.61,14.61 L1320.11,14.88 L1321.61,15.16 L1323.11,15.43 L1324.61,15.71 L1326.11,15.98 L1327.61,16.26 L1329.11,16.54 L1330.61,16.81 L1332.11,17.09 L1333.61,17.36 L1335.11,17.64 L1336.61,17.91 L1338.11,18.18 L1339.61,18.45 L1341.11,18.72 L1342.61,18.99 L1344.11,19.26 L1345.61,19.52 L1347.11,19.78 L1348.61,20.04 L1350.11,20.29 L1351.61,20.55 L1353.11,20.80 L1354.61,21.04 L1356.11,21.28 L1357.61,21.52 L1359.11,21.76 L1360.61,21.99 L1362.11,22.22 L1363.61,22.44 L1365.11,22.65 L1366.61,22.87 L1368.11,23.07 L1369.61,23.27 L1371.11,23.47 L1372.61,23.66 L1374.11,23.84 L1375.61,24.02 L1377.11,24.19 L1378.61,24.36 L1380.11,24.52 L1381.61,24.67 L1383.11,24.81 L1384.61,24.95 L1386.11,25.08 L1387.61,25.20 L1389.11,25.31 L1390.61,25.42 L1392.11,25.51 L1393.61,25.60 L1395.11,25.68 L1396.61,25.75 L1398.11,25.81 L1399.61,25.86 L1401.11,25.91 L1402.61,25.94 L1404.11,25.96 L1405.61,25.97 L1407.11,25.98 L1408.61,25.97 L1410.11,25.95 L1411.61,25.92 L1413.11,25.88 L1414.61,25.82 L1416.11,25.76 L1417.61,25.68 L1419.11,25.59 L1420.61,25.49 L1422.11,25.38 L1423.61,25.25 L1425.11,25.12 L1426.61,24.97 L1428.11,24.80 L1429.61,24.63 L1431.11,24.44 L1432.61,24.24 L1434.11,24.02 L1435.61,23.80 L1437.11,23.56 L1438.61,23.31 L1440.11,23.04 L1441.61,22.76 L1443.11,22.47 L1444.61,22.17 L1446.11,21.85 L1447.61,21.52 L1449.11,21.18 L1450.61,20.82 L1452.11,20.46 L1453.61,20.08 L1455.11,19.69 L1456.61,19.29 L1458.11,18.89 L1459.61,18.48 L1461.11,18.07 L1462.61,17.65 L1464.11,17.23 L1465.61,16.81 L1467.11,16.40 L1468.61,15.98 L1470.11,15.57 L1471.61,15.16 L1473.11,14.76 L1474.61,14.37 L1476.11,13.99 L1477.61,13.61 L1479.11,13.25 L1480.61,12.90 L1482.11,12.57 L1483.61,12.25 L1485.11,11.94 L1486.61,11.65 L1488.11,11.37 L1489.61,11.11 L1491.11,10.87 L1492.61,10.65 L1494.11,10.44 L1495.61,10.26 L1497.11,10.09 L1498.61,9.95 L1500.11,9.82 L1501.61,9.72 L1503.11,9.65 L1504.61,9.59 L1506.11,9.57 L1507.61,9.56 L1509.11,9.59 L1510.61,9.64 L1512.11,9.71 L1513.61,9.82 L1515.11,9.95 L1516.61,10.12 L1518.11,10.31 L1519.61,10.54 L1521.11,10.80 L1522.61,11.08 L1524.11,11.41 L1525.61,11.76 L1527.11,12.16 L1528.61,12.58 L1530.11,13.04 L1531.61,13.54 L1533.11,14.08 L1534.61,14.65 L1536.11,15.27 L1537.61,15.92 L1539.11,16.60 L1540.61,17.32 L1542.11,18.07 L1543.61,18.84 L1545.11,19.65 L1546.61,20.48 L1548.11,21.33 L1549.61,22.21 L1551.11,23.10 L1552.61,24.01 L1554.11,24.94 L1555.61,25.89 L1557.11,26.85 L1558.61,27.81 L1560.11,28.79 L1561.61,29.77 L1563.11,30.76 L1564.61,31.76 L1566.11,32.76 L1567.61,33.77 L1569.11,34.79 L1570.61,35.82 L1572.11,36.87 L1573.61,37.94 L1575.11,39.03 L1576.61,40.14 L1578.11,41.29 L1579.61,42.46 L1581.11,43.66 L1582.61,44.90 L1584.11,46.17 L1585.61,47.49 L1587.11,48.85 L1588.61,50.25 L1590.11,51.69 L1591.61,53.18 L1593.11,54.70 L1594.61,56.27 L1596.11,57.87 L1597.61,59.50 L1599.11,61.17 L1600.61,62.86 L1602.11,64.59 L1603.61,66.34 L1605.11,68.12 L1606.61,69.92 L1608.11,71.75 L1609.61,73.59 L1611.11,75.45 L1612.61,77.33 L1614.11,79.22 L1615.61,81.13 L1617.11,83.05 L1618.61,84.97 L1620.11,86.91 L1621.61,88.84 L1623.11,90.79 L1624.61,92.73 L1624.78,92.95" stroke="#ff2222" stroke-width="1.05" stroke-dasharray="3.4 3"/>
<path d="M1206.11,49.99 L1207.61,48.95 L1209.11,47.84 L1210.61,46.68 L1212.11,45.46 L1213.61,44.21 L1215.11,42.92 L1216.61,41.60 L1218.11,40.27 L1219.61,38.93 L1221.11,37.59 L1222.61,36.26 L1224.11,34.95 L1225.61,33.67 L1227.11,32.42 L1228.61,31.21 L1230.11,30.06 L1231.61,28.97 L1233.11,27.95 L1234.61,27.00 L1236.11,26.12 L1237.61,25.30 L1239.11,24.54 L1240.61,23.84 L1242.11,23.20 L1243.61,22.60 L1245.11,22.06 L1246.61,21.56 L1248.11,21.11 L1249.61,20.69 L1251.11,20.32 L1252.61,19.98 L1254.11,19.67 L1255.61,19.38 L1257.11,19.13 L1258.61,18.89 L1260.11,18.68 L1261.61,18.48 L1263.11,18.30 L1264.61,18.13 L1266.11,17.98 L1267.61,17.84 L1269.11,17.71 L1270.61,17.60 L1272.11,17.50 L1273.61,17.42 L1275.11,17.35 L1276.61,17.29 L1278.11,17.25 L1279.61,17.21 L1281.11,17.19 L1282.61,17.18 L1284.11,17.18 L1285.61,17.20 L1287.11,17.22 L1288.61,17.25 L1290.11,17.30 L1291.61,17.35 L1293.11,17.42 L1294.61,17.49 L1296.11,17.57 L1297.61,17.67 L1299.11,17.77 L1300.61,17.87 L1302.11,17.99 L1303.61,18.12 L1305.11,18.25 L1306.61,18.39 L1308.11,18.54 L1309.61,18.69 L1311.11,18.85 L1312.61,19.02 L1314.11,19.19 L1315.61,19.37 L1317.11,19.55 L1318.61,19.74 L1320.11,19.93 L1321.61,20.13 L1323.11,20.33 L1324.61,20.54 L1326.11,20.76 L1327.61,20.98 L1329.11,21.21 L1330.61,21.44 L1332.11,21.68 L1333.61,21.93 L1335.11,22.19 L1336.61,22.45 L1338.11,22.72 L1339.61,23.00 L1341.11,23.28 L1342.61,23.58 L1344.11,23.88 L1345.61,24.19 L1347.11,24.52 L1348.61,24.85 L1350.11,25.18 L1351.61,25.53 L1353.11,25.87 L1354.61,26.23 L1356.11,26.58 L1357.61,26.93 L1359.11,27.29 L1360.61,27.64 L1362.11,27.98 L1363.61,28.33 L1365.11,28.66 L1366.61,28.99 L1368.11,29.30 L1369.61,29.61 L1371.11,29.90 L1372.61,30.19 L1374.11,30.45 L1375.61,30.71 L1377.11,30.95 L1378.61,31.17 L1380.11,31.39 L1381.61,31.59 L1383.11,31.77 L1384.61,31.94 L1386.11,32.10 L1387.61,32.24 L1389.11,32.37 L1390.61,32.48 L1392.11,32.58 L1393.61,32.67 L1395.11,32.74 L1396.61,32.79 L1398.11,32.83 L1399.61,32.85 L1401.11,32.86 L1402.61,32.85 L1404.11,32.83 L1405.61,32.79 L1407.11,32.74 L1408.61,32.67 L1410.11,32.58 L1411.61,32.47 L1413.11,32.36 L1414.61,32.22 L1416.11,32.07 L1417.61,31.90 L1419.11,31.71 L1420.61,31.51 L1422.11,31.29 L1423.61,31.05 L1425.11,30.79 L1426.61,30.52 L1428.11,30.23 L1429.61,29.92 L1431.11,29.60 L1432.61,29.27 L1434.11,28.92 L1435.61,28.56 L1437.11,28.19 L1438.61,27.82 L1440.11,27.45 L1441.61,27.07 L1443.11,26.69 L1444.61,26.31 L1446.11,25.94 L1447.61,25.57 L1449.11,25.21 L1450.61,24.86 L1452.11,24.52 L1453.61,24.19 L1455.11,23.88 L1456.61,23.58 L1458.11,23.30 L1459.61,23.04 L1461.11,22.80 L1462.61,22.57 L1464.11,22.36 L1465.61,22.16 L1467.11,21.98 L1468.61,21.81 L1470.11,21.65 L1471.61,21.50 L1473.11,21.37 L1474.61,21.24 L1476.11,21.12 L1477.61,21.01 L1479.11,20.91 L1480.61,20.82 L1482.11,20.73 L1483.61,20.64 L1485.11,20.56 L1486.61,20.48 L1488.11,20.41 L1489.61,20.34 L1491.11,20.28 L1492.61,20.23 L1494.11,20.18 L1495.61,20.14 L1497.11,20.11 L1498.61,20.10 L1500.11,20.09 L1501.61,20.10 L1503.11,20.13 L1504.61,20.16 L1506.11,20.22 L1507.61,20.29 L1509.11,20.38 L1510.61,20.49 L1512.11,20.61 L1513.61,20.76 L1515.11,20.93 L1516.61,21.13 L1518.11,21.34 L1519.61,21.59 L1521.11,21.86 L1522.61,22.15 L1524.11,22.47 L1525.61,22.83 L1527.11,23.21 L1528.61,23.62 L1530.11,24.07 L1531.61,24.55 L1533.11,25.06 L1534.61,25.60 L1536.11,26.19 L1537.61,26.81 L1539.11,27.46 L1540.61,28.16 L1542.11,28.89 L1543.61,29.67 L1545.11,30.49 L1546.61,31.35 L1548.11,32.25 L1549.61,33.19 L1551.11,34.18 L1552.61,35.21 L1554.11,36.28 L1555.61,37.40 L1557.11,38.57 L1558.61,39.79 L1560.11,41.08 L1561.61,42.45 L1563.11,43.92 L1564.61,45.50 L1566.11,47.21 L1567.61,49.05 L1569.11,51.04 L1570.61,53.18 L1572.11,55.41 L1573.61,57.68 L1575.11,59.97 L1576.61,62.28 L1578.11,64.59 L1579.61,66.92 L1581.11,69.25 L1582.61,71.60 L1584.11,73.99 L1585.61,76.43 L1587.11,78.93 L1588.61,81.52 L1590.11,84.21 L1591.61,87.02 L1593.11,89.96 L1594.61,93.04 L1596.11,96.26 L1597.61,99.61 L1599.11,103.09 L1600.61,106.68 L1602.11,110.39 L1603.61,114.19 L1605.11,118.09 L1606.61,122.07 L1608.11,126.10 L1609.61,130.17 L1611.11,134.26 L1612.61,138.38 L1614.11,142.53 L1615.61,146.73 L1617.11,150.99 L1618.61,155.33 L1620.11,159.75 L1621.61,164.27 L1623.11,168.89 L1624.61,173.64 L1625.50,176.52" stroke="#ff2222" stroke-width="1.05" stroke-dasharray="3.4 3"/>
<path d="M1206.11,40.51 L1207.61,39.50 L1209.11,38.50 L1210.61,37.52 L1212.11,36.56 L1213.61,35.62 L1215.11,34.71 L1216.61,33.81 L1218.11,32.93 L1219.61,32.07 L1221.11,31.23 L1222.61,30.41 L1224.11,29.61 L1225.61,28.83 L1227.11,28.06 L1228.61,27.32 L1230.11,26.60 L1231.61,25.90 L1233.11,25.22 L1234.61,24.56 L1236.11,23.92 L1237.61,23.30 L1239.11,22.70 L1240.61,22.12 L1242.11,21.56 L1243.61,21.03 L1245.11,20.51 L1246.61,20.01 L1248.11,19.53 L1249.61,19.07 L1251.11,18.64 L1252.61,18.22 L1254.11,17.83 L1255.61,17.45 L1257.11,17.10 L1258.61,16.77 L1260.11,16.45 L1261.61,16.16 L1263.11,15.89 L1264.61,15.64 L1266.11,15.41 L1267.61,15.20 L1269.11,15.00 L1270.61,14.83 L1272.11,14.68 L1273.61,14.54 L1275.11,14.42 L1276.61,14.32 L1278.11,14.23 L1279.61,14.17 L1281.11,14.11 L1282.61,14.08 L1284.11,14.06 L1285.61,14.05 L1287.11,14.06 L1288.61,14.09 L1290.11,14.13 L1291.61,14.18 L1293.11,14.24 L1294.61,14.32 L1296.11,14.41 L1297.61,14.52 L1299.11,14.64 L1300.61,14.76 L1302.11,14.90 L1303.61,15.05 L1305.11,15.21 L1306.61,15.39 L1308.11,15.57 L1309.61,15.76 L1311.11,15.96 L1312.61,16.17 L1314.11,16.38 L1315.61,16.61 L1317.11,16.84 L1318.61,17.08 L1320.11,17.33 L1321.61,17.59 L1323.11,17.85 L1324.61,18.11 L1326.11,18.39 L1327.61,18.66 L1329.11,18.94 L1330.61,19.23 L1332.11,19.52 L1333.61,19.81 L1335.11,20.10 L1336.61,20.40 L1338.11,20.70 L1339.61,21.00 L1341.11,21.30 L1342.61,21.60 L1344.11,21.90 L1345.61,22.20 L1347.11,22.50 L1348.61,22.80 L1350.11,23.10 L1351.61,23.39 L1353.11,23.69 L1354.61,23.97 L1356.11,24.26 L1357.61,24.54 L1359.11,24.82 L1360.61,25.09 L1362.11,25.36 L1363.61,25.62 L1365.11,25.88 L1366.61,26.13 L1368.11,26.37 L1369.61,26.61 L1371.11,26.83 L1372.61,27.05 L1374.11,27.26 L1375.61,27.47 L1377.11,27.66 L1378.61,27.84 L1380.11,28.02 L1381.61,28.18 L1383.11,28.34 L1384.61,28.48 L1386.11,28.62 L1387.61,28.74 L1389.11,28.86 L1390.61,28.96 L1392.11,29.05 L1393.61,29.13 L1395.11,29.20 L1396.61,29.26 L1398.11,29.30 L1399.61,29.33 L1401.11,29.35 L1402.61,29.36 L1404.11,29.35 L1405.61,29.33 L1407.11,29.30 L1408.61,29.25 L1410.11,29.19 L1411.61,29.12 L1413.11,29.03 L1414.61,28.92 L1416.11,28.80 L1417.61,28.67 L1419.11,28.52 L1420.61,28.35 L1422.11,28.17 L1423.61,27.98 L1425.11,27.77 L1426.61,27.54 L1428.11,27.30 L1429.61,27.05 L1431.11,26.79 L1432.61,26.52 L1434.11,26.24 L1435.61,25.94 L1437.11,25.64 L1438.61,25.33 L1440.11,25.02 L1441.61,24.69 L1443.11,24.37 L1444.61,24.03 L1446.11,23.69 L1447.61,23.35 L1449.11,23.01 L1450.61,22.66 L1452.11,22.31 L1453.61,21.96 L1455.11,21.61 L1456.61,21.26 L1458.11,20.91 L1459.61,20.57 L1461.11,20.22 L1462.61,19.88 L1464.11,19.55 L1465.61,19.22 L1467.11,18.89 L1468.61,18.57 L1470.11,18.26 L1471.61,17.96 L1473.11,17.66 L1474.61,17.38 L1476.11,17.10 L1477.61,16.83 L1479.11,16.58 L1480.61,16.34 L1482.11,16.11 L1483.61,15.89 L1485.11,15.69 L1486.61,15.50 L1488.11,15.32 L1489.61,15.16 L1491.11,15.02 L1492.61,14.89 L1494.11,14.78 L1495.61,14.68 L1497.11,14.61 L1498.61,14.55 L1500.11,14.51 L1501.61,14.49 L1503.11,14.49 L1504.61,14.51 L1506.11,14.55 L1507.61,14.61 L1509.11,14.70 L1510.61,14.80 L1512.11,14.93 L1513.61,15.09 L1515.11,15.26 L1516.61,15.46 L1518.11,15.69 L1519.61,15.94 L1521.11,16.22 L1522.61,16.53 L1524.11,16.86 L1525.61,17.22 L1527.11,17.61 L1528.61,18.02 L1530.11,18.47 L1531.61,18.95 L1533.11,19.45 L1534.61,19.99 L1536.11,20.56 L1537.61,21.16 L1539.11,21.79 L1540.61,22.46 L1542.11,23.16 L1543.61,23.89 L1545.11,24.67 L1546.61,25.47 L1548.11,26.31 L1549.61,27.19 L1551.11,28.11 L1552.61,29.07 L1554.11,30.06 L1555.61,31.10 L1557.11,32.18 L1558.61,33.29 L1560.11,34.45 L1561.61,35.65 L1563.11,36.90 L1564.61,38.19 L1566.11,39.52 L1567.61,40.90 L1569.11,42.32 L1570.61,43.79 L1572.11,45.30 L1573.61,46.87 L1575.11,48.48 L1576.61,50.14 L1578.11,51.85 L1579.61,53.61 L1581.11,55.42 L1582.61,57.29 L1584.11,59.20 L1585.61,61.17 L1587.11,63.19 L1588.61,65.26 L1590.11,67.39 L1591.61,69.58 L1593.11,71.83 L1594.61,74.14 L1596.11,76.51 L1597.61,78.94 L1599.11,81.44 L1600.61,84.01 L1602.11,86.64 L1603.61,89.35 L1605.11,92.12 L1606.61,94.97 L1608.11,97.90 L1609.61,100.90 L1611.11,103.98 L1612.61,107.14 L1614.11,110.39 L1615.61,113.71 L1617.11,117.12 L1618.61,120.62 L1620.11,124.21 L1621.61,127.88 L1623.11,131.65 L1624.61,135.51 L1625.64,138.22" stroke="#0404ff" stroke-width="1.5" stroke-linecap="butt"/>
<line x1="1189.5" x2="1641.9" y1="22.50" y2="22.50" stroke="#111" stroke-width="1.6"/>
<path d="M1206.11,32.32 L1207.61,31.65 L1209.11,31.02 L1210.61,30.44 L1212.11,29.89 L1213.61,29.37 L1215.11,28.88 L1216.61,28.41 L1218.11,27.96 L1219.61,27.52 L1221.11,27.09 L1222.61,26.67 L1224.11,26.25 L1225.61,25.82 L1227.11,25.39 L1228.61,24.94 L1230.11,24.48 L1231.61,24.00 L1233.11,23.49 L1234.61,22.96 L1236.11,22.41 L1237.61,21.84 L1239.11,21.26 L1240.61,20.66 L1242.11,20.06 L1243.61,19.46 L1245.11,18.85 L1246.61,18.24 L1248.11,17.64 L1249.61,17.05 L1251.11,16.47 L1252.61,15.90 L1254.11,15.35 L1255.61,14.82 L1257.11,14.32 L1258.61,13.84 L1260.11,13.40 L1261.61,12.98 L1263.11,12.60 L1264.61,12.26 L1266.11,11.94 L1267.61,11.66 L1269.11,11.41 L1270.61,11.19 L1272.11,10.99 L1273.61,10.83 L1275.11,10.69 L1276.61,10.58 L1278.11,10.49 L1279.61,10.43 L1281.11,10.39 L1282.61,10.38 L1284.11,10.39 L1285.61,10.42 L1287.11,10.46 L1288.61,10.53 L1290.11,10.62 L1291.61,10.72 L1293.11,10.84 L1294.61,10.98 L1296.11,11.13 L1297.61,11.30 L1299.11,11.48 L1300.61,11.67 L1302.11,11.87 L1303.61,12.08 L1305.11,12.31 L1306.61,12.54 L1308.11,12.78 L1309.61,13.03 L1311.11,13.28 L1312.61,13.54 L1314.11,13.80 L1315.61,14.07 L1317.11,14.34 L1318.61,14.61 L1320.11,14.88 L1321.61,15.16 L1323.11,15.43 L1324.61,15.71 L1326.11,15.98 L1327.61,16.26 L1329.11,16.54 L1330.61,16.81 L1332.11,17.09 L1333.61,17.36 L1335.11,17.64 L1336.61,17.91 L1338.11,18.18 L1339.61,18.45 L1341.11,18.72 L1342.61,18.99 L1344.11,19.26 L1345.61,19.52 L1347.11,19.78 L1348.61,20.04 L1350.11,20.29 L1351.61,20.55 L1353.11,20.80 L1354.61,21.04 L1356.11,21.28 L1357.61,21.52 L1359.11,21.76 L1360.61,21.99 L1362.11,22.22 L1363.61,22.44 L1365.11,22.65 L1366.61,22.87 L1368.11,23.07 L1369.61,23.27 L1371.11,23.47 L1372.61,23.66 L1374.11,23.84 L1375.61,24.02 L1377.11,24.19 L1378.61,24.36 L1380.11,24.52 L1381.61,24.67 L1383.11,24.81 L1384.61,24.95 L1386.11,25.08 L1387.61,25.20 L1389.11,25.31 L1390.61,25.42 L1392.11,25.51 L1393.61,25.60 L1395.11,25.68 L1396.61,25.75 L1398.11,25.81 L1399.61,25.86 L1401.11,25.91 L1402.61,25.94 L1404.11,25.96 L1405.61,25.97 L1407.11,25.98 L1408.61,25.97 L1410.11,25.95 L1411.61,25.92 L1413.11,25.88 L1414.61,25.82 L1416.11,25.76 L1417.61,25.68 L1419.11,25.59 L1420.61,25.49 L1422.11,25.38 L1423.61,25.25 L1425.11,25.12 L1426.61,24.97 L1428.11,24.80 L1429.61,24.63 L1431.11,24.44 L1432.61,24.24 L1434.11,24.02 L1435.61,23.80 L1437.11,23.56 L1438.61,23.31 L1440.11,23.04 L1441.61,22.76 L1443.11,22.47 L1444.61,22.17 L1446.11,21.85 L1447.61,21.52 L1449.11,21.18 L1450.61,20.82 L1452.11,20.46 L1453.61,20.08 L1455.11,19.69 L1456.61,19.29 L1458.11,18.89 L1459.61,18.48 L1461.11,18.07 L1462.61,17.65 L1464.11,17.23 L1465.61,16.81 L1467.11,16.40 L1468.61,15.98 L1470.11,15.57 L1471.61,15.16 L1473.11,14.76 L1474.61,14.37 L1476.11,13.99 L1477.61,13.61 L1479.11,13.25 L1480.61,12.90 L1482.11,12.57 L1483.61,12.25 L1485.11,11.94 L1486.61,11.65 L1488.11,11.37 L1489.61,11.11 L1491.11,10.87 L1492.61,10.65 L1494.11,10.44 L1495.61,10.26 L1497.11,10.09 L1498.61,9.95 L1500.11,9.82 L1501.61,9.72 L1503.11,9.65 L1504.61,9.59 L1506.11,9.57 L1507.61,9.56 L1509.11,9.59 L1510.61,9.64 L1512.11,9.71 L1513.61,9.82 L1515.11,9.95 L1516.61,10.12 L1518.11,10.31 L1519.61,10.54 L1521.11,10.80 L1522.61,11.08 L1524.11,11.41 L1525.61,11.76 L1527.11,12.16 L1528.61,12.58 L1530.11,13.04 L1531.61,13.54 L1533.11,14.08 L1534.61,14.65 L1536.11,15.27 L1537.61,15.92 L1539.11,16.60 L1540.61,17.32 L1542.11,18.07 L1543.61,18.84 L1545.11,19.65 L1546.61,20.48 L1548.11,21.33 L1549.61,22.21 L1551.11,23.10 L1552.61,24.01 L1554.11,24.94 L1555.61,25.89 L1557.11,26.85 L1558.61,27.81 L1560.11,28.79 L1561.61,29.77 L1563.11,30.76 L1564.61,31.76 L1566.11,32.76 L1567.61,33.77 L1569.11,34.79 L1570.61,35.82 L1572.11,36.87 L1573.61,37.94 L1575.11,39.03 L1576.61,40.14 L1578.11,41.29 L1579.61,42.46 L1581.11,43.66 L1582.61,44.90 L1584.11,46.17 L1585.61,47.49 L1587.11,48.85 L1588.61,50.25 L1590.11,51.69 L1591.61,53.18 L1593.11,54.70 L1594.61,56.27 L1596.11,57.87 L1597.61,59.50 L1599.11,61.17 L1600.61,62.86 L1602.11,64.59 L1603.61,66.34 L1605.11,68.12 L1606.61,69.92 L1608.11,71.75 L1609.61,73.59 L1611.11,75.45 L1612.61,77.33 L1614.11,79.22 L1615.61,81.13 L1617.11,83.05 L1618.61,84.97 L1620.11,86.91 L1621.61,88.84 L1623.11,90.79 L1624.61,92.73 L1624.78,92.95" stroke="#ff2222" stroke-width="1.05" stroke-dasharray="3.4 3" opacity="0.45"/>
<path d="M1206.11,49.99 L1207.61,48.95 L1209.11,47.84 L1210.61,46.68 L1212.11,45.46 L1213.61,44.21 L1215.11,42.92 L1216.61,41.60 L1218.11,40.27 L1219.61,38.93 L1221.11,37.59 L1222.61,36.26 L1224.11,34.95 L1225.61,33.67 L1227.11,32.42 L1228.61,31.21 L1230.11,30.06 L1231.61,28.97 L1233.11,27.95 L1234.61,27.00 L1236.11,26.12 L1237.61,25.30 L1239.11,24.54 L1240.61,23.84 L1242.11,23.20 L1243.61,22.60 L1245.11,22.06 L1246.61,21.56 L1248.11,21.11 L1249.61,20.69 L1251.11,20.32 L1252.61,19.98 L1254.11,19.67 L1255.61,19.38 L1257.11,19.13 L1258.61,18.89 L1260.11,18.68 L1261.61,18.48 L1263.11,18.30 L1264.61,18.13 L1266.11,17.98 L1267.61,17.84 L1269.11,17.71 L1270.61,17.60 L1272.11,17.50 L1273.61,17.42 L1275.11,17.35 L1276.61,17.29 L1278.11,17.25 L1279.61,17.21 L1281.11,17.19 L1282.61,17.18 L1284.11,17.18 L1285.61,17.20 L1287.11,17.22 L1288.61,17.25 L1290.11,17.30 L1291.61,17.35 L1293.11,17.42 L1294.61,17.49 L1296.11,17.57 L1297.61,17.67 L1299.11,17.77 L1300.61,17.87 L1302.11,17.99 L1303.61,18.12 L1305.11,18.25 L1306.61,18.39 L1308.11,18.54 L1309.61,18.69 L1311.11,18.85 L1312.61,19.02 L1314.11,19.19 L1315.61,19.37 L1317.11,19.55 L1318.61,19.74 L1320.11,19.93 L1321.61,20.13 L1323.11,20.33 L1324.61,20.54 L1326.11,20.76 L1327.61,20.98 L1329.11,21.21 L1330.61,21.44 L1332.11,21.68 L1333.61,21.93 L1335.11,22.19 L1336.61,22.45 L1338.11,22.72 L1339.61,23.00 L1341.11,23.28 L1342.61,23.58 L1344.11,23.88 L1345.61,24.19 L1347.11,24.52 L1348.61,24.85 L1350.11,25.18 L1351.61,25.53 L1353.11,25.87 L1354.61,26.23 L1356.11,26.58 L1357.61,26.93 L1359.11,27.29 L1360.61,27.64 L1362.11,27.98 L1363.61,28.33 L1365.11,28.66 L1366.61,28.99 L1368.11,29.30 L1369.61,29.61 L1371.11,29.90 L1372.61,30.19 L1374.11,30.45 L1375.61,30.71 L1377.11,30.95 L1378.61,31.17 L1380.11,31.39 L1381.61,31.59 L1383.11,31.77 L1384.61,31.94 L1386.11,32.10 L1387.61,32.24 L1389.11,32.37 L1390.61,32.48 L1392.11,32.58 L1393.61,32.67 L1395.11,32.74 L1396.61,32.79 L1398.11,32.83 L1399.61,32.85 L1401.11,32.86 L1402.61,32.85 L1404.11,32.83 L1405.61,32.79 L1407.11,32.74 L1408.61,32.67 L1410.11,32.58 L1411.61,32.47 L1413.11,32.36 L1414.61,32.22 L1416.11,32.07 L1417.61,31.90 L1419.11,31.71 L1420.61,31.51 L1422.11,31.29 L1423.61,31.05 L1425.11,30.79 L1426.61,30.52 L1428.11,30.23 L1429.61,29.92 L1431.11,29.60 L1432.61,29.27 L1434.11,28.92 L1435.61,28.56 L1437.11,28.19 L1438.61,27.82 L1440.11,27.45 L1441.61,27.07 L1443.11,26.69 L1444.61,26.31 L1446.11,25.94 L1447.61,25.57 L1449.11,25.21 L1450.61,24.86 L1452.11,24.52 L1453.61,24.19 L1455.11,23.88 L1456.61,23.58 L1458.11,23.30 L1459.61,23.04 L1461.11,22.80 L1462.61,22.57 L1464.11,22.36 L1465.61,22.16 L1467.11,21.98 L1468.61,21.81 L1470.11,21.65 L1471.61,21.50 L1473.11,21.37 L1474.61,21.24 L1476.11,21.12 L1477.61,21.01 L1479.11,20.91 L1480.61,20.82 L1482.11,20.73 L1483.61,20.64 L1485.11,20.56 L1486.61,20.48 L1488.11,20.41 L1489.61,20.34 L1491.11,20.28 L1492.61,20.23 L1494.11,20.18 L1495.61,20.14 L1497.11,20.11 L1498.61,20.10 L1500.11,20.09 L1501.61,20.10 L1503.11,20.13 L1504.61,20.16 L1506.11,20.22 L1507.61,20.29 L1509.11,20.38 L1510.61,20.49 L1512.11,20.61 L1513.61,20.76 L1515.11,20.93 L1516.61,21.13 L1518.11,21.34 L1519.61,21.59 L1521.11,21.86 L1522.61,22.15 L1524.11,22.47 L1525.61,22.83 L1527.11,23.21 L1528.61,23.62 L1530.11,24.07 L1531.61,24.55 L1533.11,25.06 L1534.61,25.60 L1536.11,26.19 L1537.61,26.81 L1539.11,27.46 L1540.61,28.16 L1542.11,28.89 L1543.61,29.67 L1545.11,30.49 L1546.61,31.35 L1548.11,32.25 L1549.61,33.19 L1551.11,34.18 L1552.61,35.21 L1554.11,36.28 L1555.61,37.40 L1557.11,38.57 L1558.61,39.79 L1560.11,41.08 L1561.61,42.45 L1563.11,43.92 L1564.61,45.50 L1566.11,47.21 L1567.61,49.05 L1569.11,51.04 L1570.61,53.18 L1572.11,55.41 L1573.61,57.68 L1575.11,59.97 L1576.61,62.28 L1578.11,64.59 L1579.61,66.92 L1581.11,69.25 L1582.61,71.60 L1584.11,73.99 L1585.61,76.43 L1587.11,78.93 L1588.61,81.52 L1590.11,84.21 L1591.61,87.02 L1593.11,89.96 L1594.61,93.04 L1596.11,96.26 L1597.61,99.61 L1599.11,103.09 L1600.61,106.68 L1602.11,110.39 L1603.61,114.19 L1605.11,118.09 L1606.61,122.07 L1608.11,126.10 L1609.61,130.17 L1611.11,134.26 L1612.61,138.38 L1614.11,142.53 L1615.61,146.73 L1617.11,150.99 L1618.61,155.33 L1620.11,159.75 L1621.61,164.27 L1623.11,168.89 L1624.61,173.64 L1625.50,176.52" stroke="#ff2222" stroke-width="1.05" stroke-dasharray="3.4 3" opacity="0.45"/>
<path d="M1206.11,40.51 L1207.61,39.50 L1209.11,38.50 L1210.61,37.52 L1212.11,36.56 L1213.61,35.62 L1215.11,34.71 L1216.61,33.81 L1218.11,32.93 L1219.61,32.07 L1221.11,31.23 L1222.61,30.41 L1224.11,29.61 L1225.61,28.83 L1227.11,28.06 L1228.61,27.32 L1230.11,26.60 L1231.61,25.90 L1233.11,25.22 L1234.61,24.56 L1236.11,23.92 L1237.61,23.30 L1239.11,22.70 L1240.61,22.12 L1242.11,21.56 L1243.61,21.03 L1245.11,20.51 L1246.61,20.01 L1248.11,19.53 L1249.61,19.07 L1251.11,18.64 L1252.61,18.22 L1254.11,17.83 L1255.61,17.45 L1257.11,17.10 L1258.61,16.77 L1260.11,16.45 L1261.61,16.16 L1263.11,15.89 L1264.61,15.64 L1266.11,15.41 L1267.61,15.20 L1269.11,15.00 L1270.61,14.83 L1272.11,14.68 L1273.61,14.54 L1275.11,14.42 L1276.61,14.32 L1278.11,14.23 L1279.61,14.17 L1281.11,14.11 L1282.61,14.08 L1284.11,14.06 L1285.61,14.05 L1287.11,14.06 L1288.61,14.09 L1290.11,14.13 L1291.61,14.18 L1293.11,14.24 L1294.61,14.32 L1296.11,14.41 L1297.61,14.52 L1299.11,14.64 L1300.61,14.76 L1302.11,14.90 L1303.61,15.05 L1305.11,15.21 L1306.61,15.39 L1308.11,15.57 L1309.61,15.76 L1311.11,15.96 L1312.61,16.17 L1314.11,16.38 L1315.61,16.61 L1317.11,16.84 L1318.61,17.08 L1320.11,17.33 L1321.61,17.59 L1323.11,17.85 L1324.61,18.11 L1326.11,18.39 L1327.61,18.66 L1329.11,18.94 L1330.61,19.23 L1332.11,19.52 L1333.61,19.81 L1335.11,20.10 L1336.61,20.40 L1338.11,20.70 L1339.61,21.00 L1341.11,21.30 L1342.61,21.60 L1344.11,21.90 L1345.61,22.20 L1347.11,22.50 L1348.61,22.80 L1350.11,23.10 L1351.61,23.39 L1353.11,23.69 L1354.61,23.97 L1356.11,24.26 L1357.61,24.54 L1359.11,24.82 L1360.61,25.09 L1362.11,25.36 L1363.61,25.62 L1365.11,25.88 L1366.61,26.13 L1368.11,26.37 L1369.61,26.61 L1371.11,26.83 L1372.61,27.05 L1374.11,27.26 L1375.61,27.47 L1377.11,27.66 L1378.61,27.84 L1380.11,28.02 L1381.61,28.18 L1383.11,28.34 L1384.61,28.48 L1386.11,28.62 L1387.61,28.74 L1389.11,28.86 L1390.61,28.96 L1392.11,29.05 L1393.61,29.13 L1395.11,29.20 L1396.61,29.26 L1398.11,29.30 L1399.61,29.33 L1401.11,29.35 L1402.61,29.36 L1404.11,29.35 L1405.61,29.33 L1407.11,29.30 L1408.61,29.25 L1410.11,29.19 L1411.61,29.12 L1413.11,29.03 L1414.61,28.92 L1416.11,28.80 L1417.61,28.67 L1419.11,28.52 L1420.61,28.35 L1422.11,28.17 L1423.61,27.98 L1425.11,27.77 L1426.61,27.54 L1428.11,27.30 L1429.61,27.05 L1431.11,26.79 L1432.61,26.52 L1434.11,26.24 L1435.61,25.94 L1437.11,25.64 L1438.61,25.33 L1440.11,25.02 L1441.61,24.69 L1443.11,24.37 L1444.61,24.03 L1446.11,23.69 L1447.61,23.35 L1449.11,23.01 L1450.61,22.66 L1452.11,22.31 L1453.61,21.96 L1455.11,21.61 L1456.61,21.26 L1458.11,20.91 L1459.61,20.57 L1461.11,20.22 L1462.61,19.88 L1464.11,19.55 L1465.61,19.22 L1467.11,18.89 L1468.61,18.57 L1470.11,18.26 L1471.61,17.96 L1473.11,17.66 L1474.61,17.38 L1476.11,17.10 L1477.61,16.83 L1479.11,16.58 L1480.61,16.34 L1482.11,16.11 L1483.61,15.89 L1485.11,15.69 L1486.61,15.50 L1488.11,15.32 L1489.61,15.16 L1491.11,15.02 L1492.61,14.89 L1494.11,14.78 L1495.61,14.68 L1497.11,14.61 L1498.61,14.55 L1500.11,14.51 L1501.61,14.49 L1503.11,14.49 L1504.61,14.51 L1506.11,14.55 L1507.61,14.61 L1509.11,14.70 L1510.61,14.80 L1512.11,14.93 L1513.61,15.09 L1515.11,15.26 L1516.61,15.46 L1518.11,15.69 L1519.61,15.94 L1521.11,16.22 L1522.61,16.53 L1524.11,16.86 L1525.61,17.22 L1527.11,17.61 L1528.61,18.02 L1530.11,18.47 L1531.61,18.95 L1533.11,19.45 L1534.61,19.99 L1536.11,20.56 L1537.61,21.16 L1539.11,21.79 L1540.61,22.46 L1542.11,23.16 L1543.61,23.89 L1545.11,24.67 L1546.61,25.47 L1548.11,26.31 L1549.61,27.19 L1551.11,28.11 L1552.61,29.07 L1554.11,30.06 L1555.61,31.10 L1557.11,32.18 L1558.61,33.29 L1560.11,34.45 L1561.61,35.65 L1563.11,36.90 L1564.61,38.19 L1566.11,39.52 L1567.61,40.90 L1569.11,42.32 L1570.61,43.79 L1572.11,45.30 L1573.61,46.87 L1575.11,48.48 L1576.61,50.14 L1578.11,51.85 L1579.61,53.61 L1581.11,55.42 L1582.61,57.29 L1584.11,59.20 L1585.61,61.17 L1587.11,63.19 L1588.61,65.26 L1590.11,67.39 L1591.61,69.58 L1593.11,71.83 L1594.61,74.14 L1596.11,76.51 L1597.61,78.94 L1599.11,81.44 L1600.61,84.01 L1602.11,86.64 L1603.61,89.35 L1605.11,92.12 L1606.61,94.97 L1608.11,97.90 L1609.61,100.90 L1611.11,103.98 L1612.61,107.14 L1614.11,110.39 L1615.61,113.71 L1617.11,117.12 L1618.61,120.62 L1620.11,124.21 L1621.61,127.88 L1623.11,131.65 L1624.61,135.51 L1625.64,138.22" stroke="#0404ff" stroke-width="1.5" stroke-linecap="butt" opacity="0.6"/>
</g>
<rect x="1189.01" y="0" width="453.35" height="1.3" fill="#686868"/>
<line x1="1189.51" x2="1189.51" y1="0" y2="200.30" stroke="#555" stroke-width="1.1"/>
<line x1="1641.91" x2="1641.91" y1="0" y2="200.30" stroke="#555" stroke-width="0.7"/>
<line x1="1189.01" x2="1642.36" y1="199.95" y2="199.95" stroke="#606060" stroke-width="1.4"/>
<line x1="1206.0" x2="1206.0" y1="199.8" y2="207.8" stroke="#333" stroke-width="1.3"/>
<text x="1206.0" y="227.2" text-anchor="middle" font-size="12.9" font-family="Liberation Sans, Arial, Helvetica, sans-serif" fill="#000" stroke="#000" stroke-width="0.28">0</text>
<line x1="1289.8" x2="1289.8" y1="199.8" y2="207.8" stroke="#333" stroke-width="1.3"/>
<text x="1289.8" y="227.2" text-anchor="middle" font-size="12.9" font-family="Liberation Sans, Arial, Helvetica, sans-serif" fill="#000" stroke="#000" stroke-width="0.28">20</text>
<line x1="1373.6" x2="1373.6" y1="199.8" y2="207.8" stroke="#333" stroke-width="1.3"/>
<text x="1373.6" y="227.2" text-anchor="middle" font-size="12.9" font-family="Liberation Sans, Arial, Helvetica, sans-serif" fill="#000" stroke="#000" stroke-width="0.28">40</text>
<line x1="1457.4" x2="1457.4" y1="199.8" y2="207.8" stroke="#333" stroke-width="1.3"/>
<text x="1457.4" y="227.2" text-anchor="middle" font-size="12.9" font-family="Liberation Sans, Arial, Helvetica, sans-serif" fill="#000" stroke="#000" stroke-width="0.28">60</text>
<line x1="1541.2" x2="1541.2" y1="199.8" y2="207.8" stroke="#333" stroke-width="1.3"/>
<text x="1541.2" y="227.2" text-anchor="middle" font-size="12.9" font-family="Liberation Sans, Arial, Helvetica, sans-serif" fill="#000" stroke="#000" stroke-width="0.28">80</text>
<line x1="1625.1" x2="1625.1" y1="199.8" y2="207.8" stroke="#333" stroke-width="1.3"/>
<text x="1625.1" y="227.2" text-anchor="middle" font-size="12.9" font-family="Liberation Sans, Arial, Helvetica, sans-serif" fill="#000" stroke="#000" stroke-width="0.28">100</text>
<text x="1415.5" y="256.7" text-anchor="middle" font-size="12.4" font-family="Liberation Sans, Arial, Helvetica, sans-serif" fill="#000" stroke="#000" stroke-width="0.28">Time</text>
<line x1="1181.7" x2="1189.5" y1="22.6" y2="22.6" stroke="#444" stroke-width="1.3"/>
<text transform="translate(1172.2,22.6) rotate(-90)" text-anchor="middle" font-size="12.9" font-family="Liberation Sans, Arial, Helvetica, sans-serif" fill="#000" stroke="#000" stroke-width="0.28">0.0</text>
<line x1="1181.7" x2="1189.5" y1="64.4" y2="64.4" stroke="#444" stroke-width="1.3"/>
<text transform="translate(1172.2,64.4) rotate(-90)" text-anchor="middle" font-size="12.9" font-family="Liberation Sans, Arial, Helvetica, sans-serif" fill="#000" stroke="#000" stroke-width="0.28">-0.2</text>
<line x1="1181.7" x2="1189.5" y1="106.3" y2="106.3" stroke="#444" stroke-width="1.3"/>
<text transform="translate(1172.2,106.3) rotate(-90)" text-anchor="middle" font-size="12.9" font-family="Liberation Sans, Arial, Helvetica, sans-serif" fill="#000" stroke="#000" stroke-width="0.28">-0.4</text>
<line x1="1181.7" x2="1189.5" y1="148.1" y2="148.1" stroke="#444" stroke-width="1.3"/>
<text transform="translate(1172.2,148.1) rotate(-90)" text-anchor="middle" font-size="12.9" font-family="Liberation Sans, Arial, Helvetica, sans-serif" fill="#000" stroke="#000" stroke-width="0.28">-0.6</text>
<line x1="1181.7" x2="1189.5" y1="190.0" y2="190.0" stroke="#444" stroke-width="1.3"/>
<text transform="translate(1172.2,190.0) rotate(-90)" text-anchor="middle" font-size="12.9" font-family="Liberation Sans, Arial, Helvetica, sans-serif" fill="#000" stroke="#000" stroke-width="0.28">-0.8</text>
<text transform="translate(1141.8,100) rotate(-90)" text-anchor="middle" font-size="12.4" font-family="Liberation Sans, Arial, Helvetica, sans-serif" fill="#000" stroke="#000" stroke-width="0.28">Beta(t)</text>
<rect x="1189.51" y="154.30" width="91.25" height="45.50" fill="#fff" stroke="#444" stroke-width="1"/>
<line x1="1200.2" x2="1223.6" y1="169.7" y2="169.7" stroke="#0000ff" stroke-width="1.8"/>
<line x1="1199.9" x2="1223.6" y1="184.9" y2="184.9" stroke="#ff0000" stroke-width="1.8" stroke-dasharray="7.4 5.4"/>
<text x="1234.2" y="174.7" font-size="12.4" font-family="Liberation Sans, Arial, Helvetica, sans-serif" fill="#000" stroke="#000" stroke-width="0.38">Beta(t)</text>
<text x="1234.2" y="189.8" font-size="12.4" font-family="Liberation Sans, Arial, Helvetica, sans-serif" fill="#000" stroke="#000" stroke-width="0.38">95% CI</text>
</g>
<text font-family="Liberation Serif, Times New Roman, serif" fill="#111" stroke="#111" font-size="30.5" xml:space="default"><tspan x="50.5" y="300.0" font-size="33.4" stroke-width="0.25" textLength="9.6" lengthAdjust="spacingAndGlyphs">(</tspan><tspan x="60.5" y="299.7" font-size="30.8" stroke-width="0.28" textLength="15.6" lengthAdjust="spacingAndGlyphs">a</tspan><tspan x="75.9" y="300.0" font-size="33.4" stroke-width="0.25" textLength="9.6" lengthAdjust="spacingAndGlyphs">)</tspan> <tspan x="110.4" y="299.7" textLength="141.2" lengthAdjust="spacingAndGlyphs" font-size="30.8" stroke-width="0.28" >Functional</tspan> <tspan x="274.2" y="299.7" textLength="131.2" lengthAdjust="spacingAndGlyphs" font-size="30.8" stroke-width="0.28" >coefficient</tspan> <tspan x="429.6" y="299.7" textLength="48.2" lengthAdjust="spacingAndGlyphs" font-size="30.8" stroke-width="0.28" >and</tspan> <tspan x="48.8" y="343" textLength="55.0" lengthAdjust="spacingAndGlyphs" font-size="30.5" stroke-width="0.35" >95%</tspan> <tspan x="114.7" y="343" textLength="32.2" lengthAdjust="spacingAndGlyphs" font-size="30.5" stroke-width="0.35" >CI</tspan> <tspan x="157.8" y="343" textLength="35.6" lengthAdjust="spacingAndGlyphs" font-size="30.5" stroke-width="0.35" >for</tspan> <tspan x="204.2" y="343" textLength="19.6" lengthAdjust="spacingAndGlyphs" font-size="30.5" stroke-width="0.1" font-style="italic">Y</tspan><tspan x="222.4" y="347.5" textLength="12" lengthAdjust="spacingAndGlyphs" font-size="21.8" stroke-width="0.15">1</tspan></text>
<text font-family="Liberation Serif, Times New Roman, serif" fill="#111" stroke="#111" font-size="30.5" xml:space="default"><tspan x="633.8" y="300.0" font-size="33.4" stroke-width="0.25" textLength="9.6" lengthAdjust="spacingAndGlyphs">(</tspan><tspan x="643.8" y="299.7" font-size="30.8" stroke-width="0.28" textLength="17.2" lengthAdjust="spacingAndGlyphs">b</tspan><tspan x="660.8" y="300.0" font-size="33.4" stroke-width="0.25" textLength="9.6" lengthAdjust="spacingAndGlyphs">)</tspan> <tspan x="693.7" y="299.7" textLength="141.2" lengthAdjust="spacingAndGlyphs" font-size="30.8" stroke-width="0.28" >Functional</tspan> <tspan x="857.5" y="299.7" textLength="131.2" lengthAdjust="spacingAndGlyphs" font-size="30.8" stroke-width="0.28" >coefficient</tspan> <tspan x="1012.4" y="299.7" textLength="48.2" lengthAdjust="spacingAndGlyphs" font-size="30.8" stroke-width="0.28" >and</tspan> <tspan x="632.1" y="343" textLength="55.0" lengthAdjust="spacingAndGlyphs" font-size="30.5" stroke-width="0.35" >95%</tspan> <tspan x="698.0" y="343" textLength="32.2" lengthAdjust="spacingAndGlyphs" font-size="30.5" stroke-width="0.35" >CI</tspan> <tspan x="741.1" y="343" textLength="35.6" lengthAdjust="spacingAndGlyphs" font-size="30.5" stroke-width="0.35" >for</tspan> <tspan x="787.5" y="343" textLength="19.6" lengthAdjust="spacingAndGlyphs" font-size="30.5" stroke-width="0.1" font-style="italic">Y</tspan><tspan x="804.8" y="347.5" textLength="12.8" lengthAdjust="spacingAndGlyphs" font-size="21.8" stroke-width="0.15">2</tspan></text>
<text font-family="Liberation Serif, Times New Roman, serif" fill="#111" stroke="#111" font-size="30.5" xml:space="default"><tspan x="1215.9" y="300.0" font-size="33.4" stroke-width="0.25" textLength="9.6" lengthAdjust="spacingAndGlyphs">(</tspan><tspan x="1225.9" y="299.7" font-size="30.8" stroke-width="0.28" textLength="14.6" lengthAdjust="spacingAndGlyphs">c</tspan><tspan x="1240.3" y="300.0" font-size="33.4" stroke-width="0.25" textLength="9.6" lengthAdjust="spacingAndGlyphs">)</tspan> <tspan x="1275.8" y="299.7" textLength="141.2" lengthAdjust="spacingAndGlyphs" font-size="30.8" stroke-width="0.28" >Functional</tspan> <tspan x="1439.6" y="299.7" textLength="131.2" lengthAdjust="spacingAndGlyphs" font-size="30.8" stroke-width="0.28" >coefficient</tspan> <tspan x="1595.0" y="299.7" textLength="48.2" lengthAdjust="spacingAndGlyphs" font-size="30.8" stroke-width="0.28" >and</tspan> <tspan x="1214.2" y="343" textLength="55.0" lengthAdjust="spacingAndGlyphs" font-size="30.5" stroke-width="0.35" >95%</tspan> <tspan x="1280.1" y="343" textLength="32.2" lengthAdjust="spacingAndGlyphs" font-size="30.5" stroke-width="0.35" >CI</tspan> <tspan x="1323.2" y="343" textLength="35.6" lengthAdjust="spacingAndGlyphs" font-size="30.5" stroke-width="0.35" >for</tspan> <tspan x="1369.6" y="343" textLength="19.6" lengthAdjust="spacingAndGlyphs" font-size="30.5" stroke-width="0.1" font-style="italic">Y</tspan><tspan x="1386.9" y="347.5" textLength="12.8" lengthAdjust="spacingAndGlyphs" font-size="21.8" stroke-width="0.15">3</tspan></text>
</svg>
</body></html>
